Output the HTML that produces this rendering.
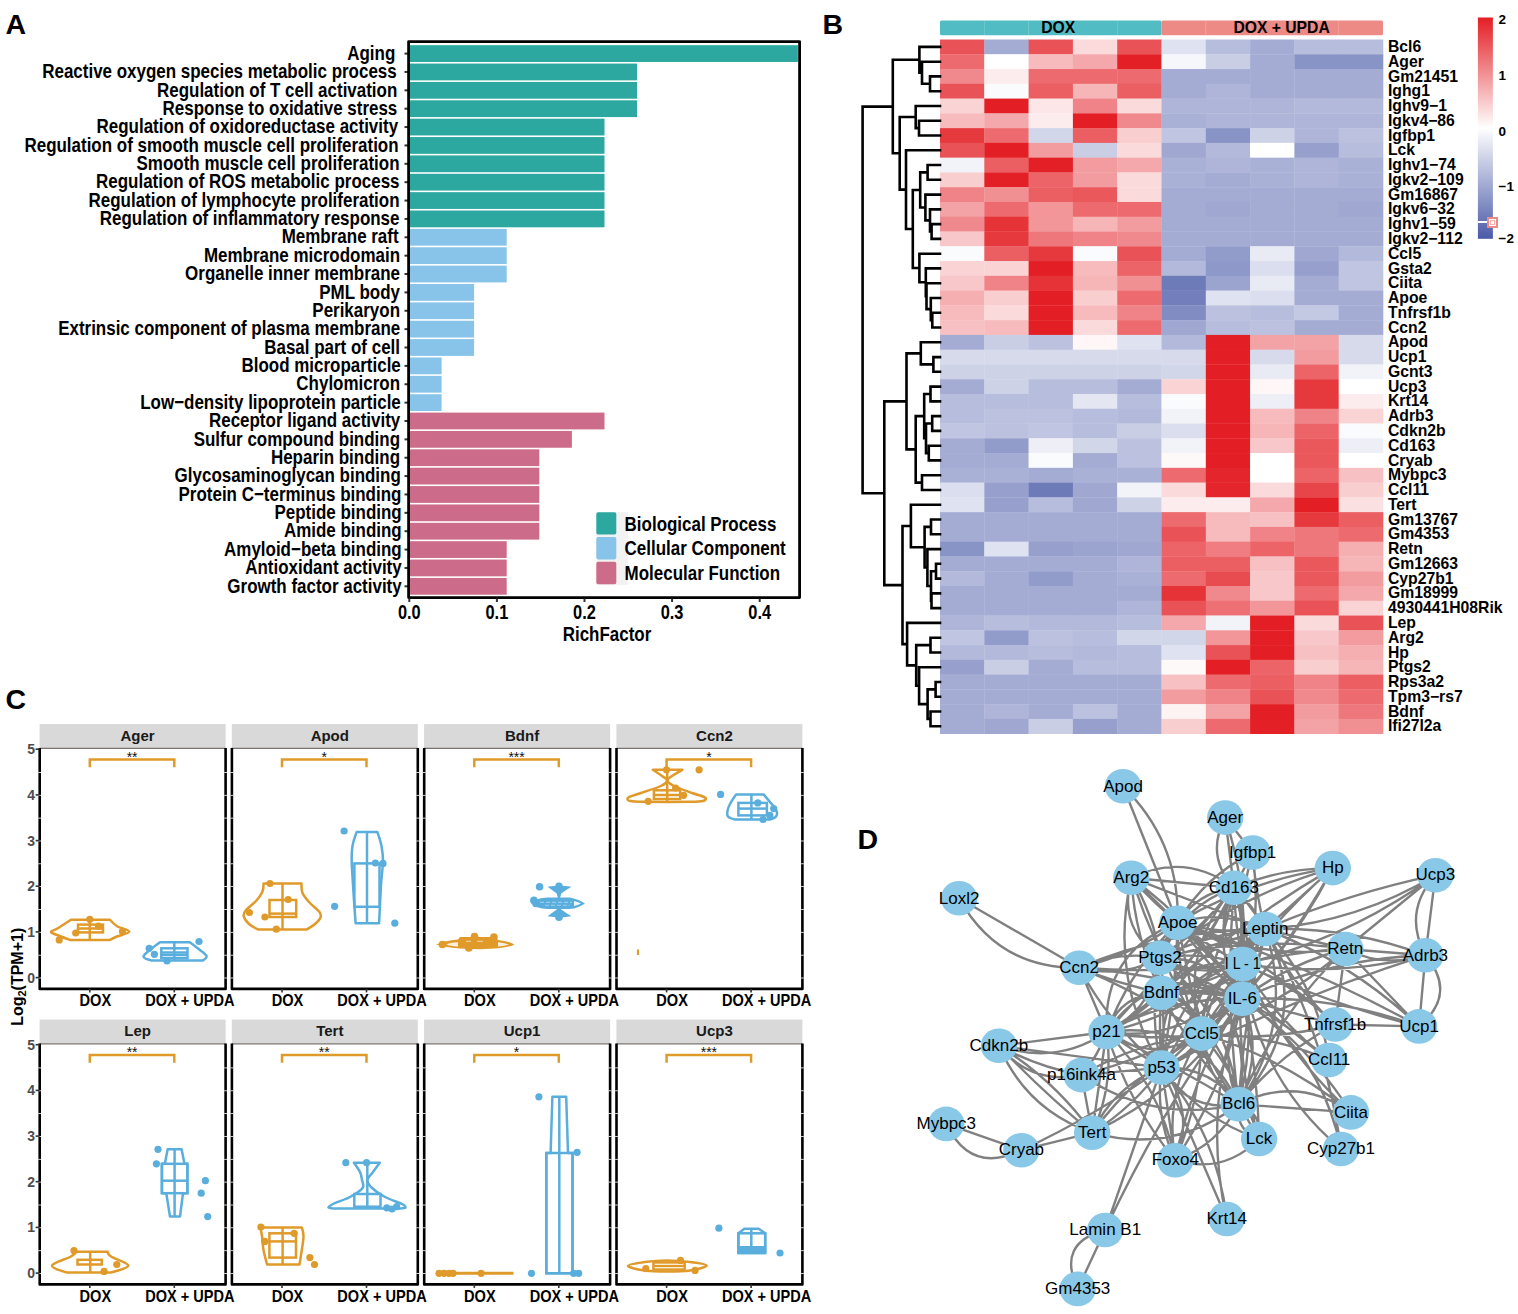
<!DOCTYPE html>
<html><head><meta charset="utf-8"><title>figure</title>
<style>html,body{margin:0;padding:0;background:#fff;} body{width:1518px;height:1314px;overflow:hidden;font-family:"Liberation Sans", sans-serif;} svg{display:block;}</style>
</head><body>
<svg width="1518" height="1314" viewBox="0 0 1518 1314" font-family="'Liberation Sans', sans-serif">
<rect width="1518" height="1314" fill="#fff"/>
<text x="5.5" y="33.8" font-size="28.5" font-weight="bold">A</text>
<text x="822.5" y="34.2" font-size="28.5" font-weight="bold">B</text>
<text x="5.5" y="709" font-size="28.5" font-weight="bold">C</text>
<rect x="409.3" y="45.20" width="388.60" height="16.77" fill="#2CA8A1"/>
<line x1="404.5" y1="53.59" x2="408.5" y2="53.59" stroke="#333" stroke-width="2"/>
<text transform="translate(395.30,59.79) scale(0.824,1)" text-anchor="end" font-size="20.6" font-weight="bold">Aging</text>
<rect x="409.3" y="63.57" width="227.70" height="16.77" fill="#2CA8A1"/>
<line x1="404.5" y1="71.95" x2="408.5" y2="71.95" stroke="#333" stroke-width="2"/>
<text transform="translate(396.70,78.16) scale(0.824,1)" text-anchor="end" font-size="20.6" font-weight="bold">Reactive oxygen species metabolic process</text>
<rect x="409.3" y="81.94" width="227.70" height="16.77" fill="#2CA8A1"/>
<line x1="404.5" y1="90.33" x2="408.5" y2="90.33" stroke="#333" stroke-width="2"/>
<text transform="translate(397.30,96.53) scale(0.824,1)" text-anchor="end" font-size="20.6" font-weight="bold">Regulation of T cell activation</text>
<rect x="409.3" y="100.31" width="227.70" height="16.77" fill="#2CA8A1"/>
<line x1="404.5" y1="108.69" x2="408.5" y2="108.69" stroke="#333" stroke-width="2"/>
<text transform="translate(397.30,114.89) scale(0.824,1)" text-anchor="end" font-size="20.6" font-weight="bold">Response to oxidative stress</text>
<rect x="409.3" y="118.68" width="195.20" height="16.77" fill="#2CA8A1"/>
<line x1="404.5" y1="127.06" x2="408.5" y2="127.06" stroke="#333" stroke-width="2"/>
<text transform="translate(398.10,133.26) scale(0.824,1)" text-anchor="end" font-size="20.6" font-weight="bold">Regulation of oxidoreductase activity</text>
<rect x="409.3" y="137.05" width="195.20" height="16.77" fill="#2CA8A1"/>
<line x1="404.5" y1="145.44" x2="408.5" y2="145.44" stroke="#333" stroke-width="2"/>
<text transform="translate(398.60,151.63) scale(0.824,1)" text-anchor="end" font-size="20.6" font-weight="bold">Regulation of smooth muscle cell proliferation</text>
<rect x="409.3" y="155.42" width="195.20" height="16.77" fill="#2CA8A1"/>
<line x1="404.5" y1="163.81" x2="408.5" y2="163.81" stroke="#333" stroke-width="2"/>
<text transform="translate(399.50,170.00) scale(0.824,1)" text-anchor="end" font-size="20.6" font-weight="bold">Smooth muscle cell proliferation</text>
<rect x="409.3" y="173.79" width="195.20" height="16.77" fill="#2CA8A1"/>
<line x1="404.5" y1="182.18" x2="408.5" y2="182.18" stroke="#333" stroke-width="2"/>
<text transform="translate(399.50,188.38) scale(0.824,1)" text-anchor="end" font-size="20.6" font-weight="bold">Regulation of ROS metabolic process</text>
<rect x="409.3" y="192.16" width="195.20" height="16.77" fill="#2CA8A1"/>
<line x1="404.5" y1="200.55" x2="408.5" y2="200.55" stroke="#333" stroke-width="2"/>
<text transform="translate(399.50,206.75) scale(0.824,1)" text-anchor="end" font-size="20.6" font-weight="bold">Regulation of lymphocyte proliferation</text>
<rect x="409.3" y="210.53" width="195.20" height="16.77" fill="#2CA8A1"/>
<line x1="404.5" y1="218.92" x2="408.5" y2="218.92" stroke="#333" stroke-width="2"/>
<text transform="translate(399.50,225.12) scale(0.824,1)" text-anchor="end" font-size="20.6" font-weight="bold">Regulation of inflammatory response</text>
<rect x="409.3" y="228.90" width="97.40" height="16.77" fill="#88C4E9"/>
<line x1="404.5" y1="237.29" x2="408.5" y2="237.29" stroke="#333" stroke-width="2"/>
<text transform="translate(398.60,243.49) scale(0.824,1)" text-anchor="end" font-size="20.6" font-weight="bold">Membrane raft</text>
<rect x="409.3" y="247.27" width="97.40" height="16.77" fill="#88C4E9"/>
<line x1="404.5" y1="255.66" x2="408.5" y2="255.66" stroke="#333" stroke-width="2"/>
<text transform="translate(400.00,261.86) scale(0.824,1)" text-anchor="end" font-size="20.6" font-weight="bold">Membrane microdomain</text>
<rect x="409.3" y="265.64" width="97.40" height="16.77" fill="#88C4E9"/>
<line x1="404.5" y1="274.02" x2="408.5" y2="274.02" stroke="#333" stroke-width="2"/>
<text transform="translate(400.00,280.22) scale(0.824,1)" text-anchor="end" font-size="20.6" font-weight="bold">Organelle inner membrane</text>
<rect x="409.3" y="284.01" width="64.80" height="16.77" fill="#88C4E9"/>
<line x1="404.5" y1="292.39" x2="408.5" y2="292.39" stroke="#333" stroke-width="2"/>
<text transform="translate(400.00,298.59) scale(0.824,1)" text-anchor="end" font-size="20.6" font-weight="bold">PML body</text>
<rect x="409.3" y="302.38" width="64.80" height="16.77" fill="#88C4E9"/>
<line x1="404.5" y1="310.76" x2="408.5" y2="310.76" stroke="#333" stroke-width="2"/>
<text transform="translate(400.00,316.96) scale(0.824,1)" text-anchor="end" font-size="20.6" font-weight="bold">Perikaryon</text>
<rect x="409.3" y="320.75" width="64.80" height="16.77" fill="#88C4E9"/>
<line x1="404.5" y1="329.13" x2="408.5" y2="329.13" stroke="#333" stroke-width="2"/>
<text transform="translate(400.30,335.33) scale(0.824,1)" text-anchor="end" font-size="20.6" font-weight="bold">Extrinsic component of plasma membrane</text>
<rect x="409.3" y="339.12" width="64.80" height="16.77" fill="#88C4E9"/>
<line x1="404.5" y1="347.50" x2="408.5" y2="347.50" stroke="#333" stroke-width="2"/>
<text transform="translate(400.00,353.70) scale(0.824,1)" text-anchor="end" font-size="20.6" font-weight="bold">Basal part of cell</text>
<rect x="409.3" y="357.49" width="32.30" height="16.77" fill="#88C4E9"/>
<line x1="404.5" y1="365.88" x2="408.5" y2="365.88" stroke="#333" stroke-width="2"/>
<text transform="translate(400.80,372.07) scale(0.824,1)" text-anchor="end" font-size="20.6" font-weight="bold">Blood microparticle</text>
<rect x="409.3" y="375.86" width="32.30" height="16.77" fill="#88C4E9"/>
<line x1="404.5" y1="384.25" x2="408.5" y2="384.25" stroke="#333" stroke-width="2"/>
<text transform="translate(400.00,390.44) scale(0.824,1)" text-anchor="end" font-size="20.6" font-weight="bold">Chylomicron</text>
<rect x="409.3" y="394.23" width="32.30" height="16.77" fill="#88C4E9"/>
<line x1="404.5" y1="402.62" x2="408.5" y2="402.62" stroke="#333" stroke-width="2"/>
<text transform="translate(400.80,408.81) scale(0.824,1)" text-anchor="end" font-size="20.6" font-weight="bold">Low−density lipoprotein particle</text>
<rect x="409.3" y="412.60" width="195.20" height="16.77" fill="#CD6B8A"/>
<line x1="404.5" y1="420.99" x2="408.5" y2="420.99" stroke="#333" stroke-width="2"/>
<text transform="translate(400.30,427.19) scale(0.824,1)" text-anchor="end" font-size="20.6" font-weight="bold">Receptor ligand activity</text>
<rect x="409.3" y="430.97" width="162.60" height="16.77" fill="#CD6B8A"/>
<line x1="404.5" y1="439.36" x2="408.5" y2="439.36" stroke="#333" stroke-width="2"/>
<text transform="translate(400.00,445.56) scale(0.824,1)" text-anchor="end" font-size="20.6" font-weight="bold">Sulfur compound binding</text>
<rect x="409.3" y="449.34" width="130.00" height="16.77" fill="#CD6B8A"/>
<line x1="404.5" y1="457.73" x2="408.5" y2="457.73" stroke="#333" stroke-width="2"/>
<text transform="translate(400.00,463.93) scale(0.824,1)" text-anchor="end" font-size="20.6" font-weight="bold">Heparin binding</text>
<rect x="409.3" y="467.71" width="130.00" height="16.77" fill="#CD6B8A"/>
<line x1="404.5" y1="476.10" x2="408.5" y2="476.10" stroke="#333" stroke-width="2"/>
<text transform="translate(400.80,482.30) scale(0.824,1)" text-anchor="end" font-size="20.6" font-weight="bold">Glycosaminoglycan binding</text>
<rect x="409.3" y="486.08" width="130.00" height="16.77" fill="#CD6B8A"/>
<line x1="404.5" y1="494.46" x2="408.5" y2="494.46" stroke="#333" stroke-width="2"/>
<text transform="translate(401.40,500.66) scale(0.824,1)" text-anchor="end" font-size="20.6" font-weight="bold">Protein C−terminus binding</text>
<rect x="409.3" y="504.45" width="130.00" height="16.77" fill="#CD6B8A"/>
<line x1="404.5" y1="512.83" x2="408.5" y2="512.83" stroke="#333" stroke-width="2"/>
<text transform="translate(401.70,519.03) scale(0.824,1)" text-anchor="end" font-size="20.6" font-weight="bold">Peptide binding</text>
<rect x="409.3" y="522.82" width="130.00" height="16.77" fill="#CD6B8A"/>
<line x1="404.5" y1="531.20" x2="408.5" y2="531.20" stroke="#333" stroke-width="2"/>
<text transform="translate(401.70,537.40) scale(0.824,1)" text-anchor="end" font-size="20.6" font-weight="bold">Amide binding</text>
<rect x="409.3" y="541.19" width="97.40" height="16.77" fill="#CD6B8A"/>
<line x1="404.5" y1="549.57" x2="408.5" y2="549.57" stroke="#333" stroke-width="2"/>
<text transform="translate(401.70,555.77) scale(0.824,1)" text-anchor="end" font-size="20.6" font-weight="bold">Amyloid−beta binding</text>
<rect x="409.3" y="559.56" width="97.40" height="16.77" fill="#CD6B8A"/>
<line x1="404.5" y1="567.94" x2="408.5" y2="567.94" stroke="#333" stroke-width="2"/>
<text transform="translate(401.70,574.14) scale(0.824,1)" text-anchor="end" font-size="20.6" font-weight="bold">Antioxidant activity</text>
<rect x="409.3" y="577.93" width="97.40" height="16.77" fill="#CD6B8A"/>
<line x1="404.5" y1="586.31" x2="408.5" y2="586.31" stroke="#333" stroke-width="2"/>
<text transform="translate(401.70,592.51) scale(0.824,1)" text-anchor="end" font-size="20.6" font-weight="bold">Growth factor activity</text>
<rect x="408.6" y="41.6" width="391.0" height="556.0" fill="none" stroke="#000" stroke-width="2.8" stroke-linejoin="round"/>
<line x1="409.30" y1="598.5" x2="409.30" y2="602" stroke="#333" stroke-width="2"/>
<text transform="translate(409.30,619.2) scale(0.78,1)" text-anchor="middle" font-size="21" font-weight="bold">0.0</text>
<line x1="496.90" y1="598.5" x2="496.90" y2="602" stroke="#333" stroke-width="2"/>
<text transform="translate(496.90,619.2) scale(0.78,1)" text-anchor="middle" font-size="21" font-weight="bold">0.1</text>
<line x1="584.50" y1="598.5" x2="584.50" y2="602" stroke="#333" stroke-width="2"/>
<text transform="translate(584.50,619.2) scale(0.78,1)" text-anchor="middle" font-size="21" font-weight="bold">0.2</text>
<line x1="672.10" y1="598.5" x2="672.10" y2="602" stroke="#333" stroke-width="2"/>
<text transform="translate(672.10,619.2) scale(0.78,1)" text-anchor="middle" font-size="21" font-weight="bold">0.3</text>
<line x1="759.70" y1="598.5" x2="759.70" y2="602" stroke="#333" stroke-width="2"/>
<text transform="translate(759.70,619.2) scale(0.78,1)" text-anchor="middle" font-size="21" font-weight="bold">0.4</text>
<text transform="translate(607,641.2) scale(0.857,1)" text-anchor="middle" font-size="19.8" font-weight="bold">RichFactor</text>
<rect x="596.5" y="512" width="31.5" height="73" fill="#F2F2F2"/>
<rect x="596.3" y="512.20" width="20" height="22.4" rx="1.8" fill="#2CA8A1"/>
<text transform="translate(624.6,530.60) scale(0.824,1)" font-size="20.6" font-weight="bold">Biological Process</text>
<rect x="596.3" y="537.00" width="20" height="22.4" rx="1.8" fill="#88C4E9"/>
<text transform="translate(624.6,555.40) scale(0.824,1)" font-size="20.6" font-weight="bold">Cellular Component</text>
<rect x="596.3" y="561.80" width="20" height="22.4" rx="1.8" fill="#CD6B8A"/>
<text transform="translate(624.6,580.20) scale(0.824,1)" font-size="20.6" font-weight="bold">Molecular Function</text>
<rect x="940.0" y="20.5" width="221.50" height="14.8" rx="1.5" fill="#52BCC5"/>
<rect x="1161.50" y="20.5" width="221.50" height="14.8" rx="1.5" fill="#EE8A85"/>
<line x1="984.30" y1="20.5" x2="984.30" y2="35.3" stroke="#fff" stroke-width="0.4" opacity="0.5"/>
<line x1="1028.60" y1="20.5" x2="1028.60" y2="35.3" stroke="#fff" stroke-width="0.4" opacity="0.5"/>
<line x1="1072.90" y1="20.5" x2="1072.90" y2="35.3" stroke="#fff" stroke-width="0.4" opacity="0.5"/>
<line x1="1117.20" y1="20.5" x2="1117.20" y2="35.3" stroke="#fff" stroke-width="0.4" opacity="0.5"/>
<line x1="1205.80" y1="20.5" x2="1205.80" y2="35.3" stroke="#fff" stroke-width="0.4" opacity="0.5"/>
<line x1="1250.10" y1="20.5" x2="1250.10" y2="35.3" stroke="#fff" stroke-width="0.4" opacity="0.5"/>
<line x1="1294.40" y1="20.5" x2="1294.40" y2="35.3" stroke="#fff" stroke-width="0.4" opacity="0.5"/>
<line x1="1338.70" y1="20.5" x2="1338.70" y2="35.3" stroke="#fff" stroke-width="0.4" opacity="0.5"/>
<text x="1058.2" y="33" text-anchor="middle" font-size="15.7" font-weight="bold">DOX</text>
<text x="1281.6" y="33" text-anchor="middle" font-size="15.7" font-weight="bold">DOX + UPDA</text>
<rect x="940.00" y="39.50" width="44.60" height="15.07" fill="#E95256"/>
<rect x="984.30" y="39.50" width="44.60" height="15.07" fill="#A4ACD4"/>
<rect x="1028.60" y="39.50" width="44.60" height="15.07" fill="#E95256"/>
<rect x="1072.90" y="39.50" width="44.60" height="15.07" fill="#FADADB"/>
<rect x="1117.20" y="39.50" width="44.60" height="15.07" fill="#E95256"/>
<rect x="1161.50" y="39.50" width="44.60" height="15.07" fill="#DFE2F0"/>
<rect x="1205.80" y="39.50" width="44.60" height="15.07" fill="#B7BDDC"/>
<rect x="1250.10" y="39.50" width="44.60" height="15.07" fill="#A4ACD4"/>
<rect x="1294.40" y="39.50" width="44.60" height="15.07" fill="#B7BDDC"/>
<rect x="1338.70" y="39.50" width="44.60" height="15.07" fill="#B7BDDC"/>
<rect x="940.00" y="54.27" width="44.60" height="15.07" fill="#ED6A6E"/>
<rect x="984.30" y="54.27" width="44.60" height="15.07" fill="#FFFFFF"/>
<rect x="1028.60" y="54.27" width="44.60" height="15.07" fill="#F7BBBD"/>
<rect x="1072.90" y="54.27" width="44.60" height="15.07" fill="#F4A8AB"/>
<rect x="1117.20" y="54.27" width="44.60" height="15.07" fill="#E32026"/>
<rect x="1161.50" y="54.27" width="44.60" height="15.07" fill="#F6F7FB"/>
<rect x="1205.80" y="54.27" width="44.60" height="15.07" fill="#C9CEE5"/>
<rect x="1250.10" y="54.27" width="44.60" height="15.07" fill="#A4ACD4"/>
<rect x="1294.40" y="54.27" width="44.60" height="15.07" fill="#8994C6"/>
<rect x="1338.70" y="54.27" width="44.60" height="15.07" fill="#8994C6"/>
<rect x="940.00" y="69.04" width="44.60" height="15.07" fill="#F0898D"/>
<rect x="984.30" y="69.04" width="44.60" height="15.07" fill="#FDECED"/>
<rect x="1028.60" y="69.04" width="44.60" height="15.07" fill="#ED6A6E"/>
<rect x="1072.90" y="69.04" width="44.60" height="15.07" fill="#ED6A6E"/>
<rect x="1117.20" y="69.04" width="44.60" height="15.07" fill="#ED6A6E"/>
<rect x="1161.50" y="69.04" width="44.60" height="15.07" fill="#A4ACD4"/>
<rect x="1205.80" y="69.04" width="44.60" height="15.07" fill="#A4ACD4"/>
<rect x="1250.10" y="69.04" width="44.60" height="15.07" fill="#A4ACD4"/>
<rect x="1294.40" y="69.04" width="44.60" height="15.07" fill="#A4ACD4"/>
<rect x="1338.70" y="69.04" width="44.60" height="15.07" fill="#A4ACD4"/>
<rect x="940.00" y="83.81" width="44.60" height="15.07" fill="#E95256"/>
<rect x="984.30" y="83.81" width="44.60" height="15.07" fill="#FAFBFD"/>
<rect x="1028.60" y="83.81" width="44.60" height="15.07" fill="#EB5E62"/>
<rect x="1072.90" y="83.81" width="44.60" height="15.07" fill="#F6B5B7"/>
<rect x="1117.20" y="83.81" width="44.60" height="15.07" fill="#EB5E62"/>
<rect x="1161.50" y="83.81" width="44.60" height="15.07" fill="#A4ACD4"/>
<rect x="1205.80" y="83.81" width="44.60" height="15.07" fill="#AEB5D8"/>
<rect x="1250.10" y="83.81" width="44.60" height="15.07" fill="#A4ACD4"/>
<rect x="1294.40" y="83.81" width="44.60" height="15.07" fill="#A4ACD4"/>
<rect x="1338.70" y="83.81" width="44.60" height="15.07" fill="#A4ACD4"/>
<rect x="940.00" y="98.58" width="44.60" height="15.07" fill="#FAD4D5"/>
<rect x="984.30" y="98.58" width="44.60" height="15.07" fill="#E31E24"/>
<rect x="1028.60" y="98.58" width="44.60" height="15.07" fill="#FCE6E7"/>
<rect x="1072.90" y="98.58" width="44.60" height="15.07" fill="#F08387"/>
<rect x="1117.20" y="98.58" width="44.60" height="15.07" fill="#FADADB"/>
<rect x="1161.50" y="98.58" width="44.60" height="15.07" fill="#AEB5D8"/>
<rect x="1205.80" y="98.58" width="44.60" height="15.07" fill="#AEB5D8"/>
<rect x="1250.10" y="98.58" width="44.60" height="15.07" fill="#AEB5D8"/>
<rect x="1294.40" y="98.58" width="44.60" height="15.07" fill="#B2B9DA"/>
<rect x="1338.70" y="98.58" width="44.60" height="15.07" fill="#B2B9DA"/>
<rect x="940.00" y="113.35" width="44.60" height="15.07" fill="#F7BBBD"/>
<rect x="984.30" y="113.35" width="44.60" height="15.07" fill="#F4A8AB"/>
<rect x="1028.60" y="113.35" width="44.60" height="15.07" fill="#FDECED"/>
<rect x="1072.90" y="113.35" width="44.60" height="15.07" fill="#E31E24"/>
<rect x="1117.20" y="113.35" width="44.60" height="15.07" fill="#F0898D"/>
<rect x="1161.50" y="113.35" width="44.60" height="15.07" fill="#A9B1D6"/>
<rect x="1205.80" y="113.35" width="44.60" height="15.07" fill="#AEB5D8"/>
<rect x="1250.10" y="113.35" width="44.60" height="15.07" fill="#AEB5D8"/>
<rect x="1294.40" y="113.35" width="44.60" height="15.07" fill="#AEB5D8"/>
<rect x="1338.70" y="113.35" width="44.60" height="15.07" fill="#AEB5D8"/>
<rect x="940.00" y="128.12" width="44.60" height="15.07" fill="#E6393E"/>
<rect x="984.30" y="128.12" width="44.60" height="15.07" fill="#ED6A6E"/>
<rect x="1028.60" y="128.12" width="44.60" height="15.07" fill="#D2D6E9"/>
<rect x="1072.90" y="128.12" width="44.60" height="15.07" fill="#EB5E62"/>
<rect x="1117.20" y="128.12" width="44.60" height="15.07" fill="#F9CECF"/>
<rect x="1161.50" y="128.12" width="44.60" height="15.07" fill="#C0C5E1"/>
<rect x="1205.80" y="128.12" width="44.60" height="15.07" fill="#8994C6"/>
<rect x="1250.10" y="128.12" width="44.60" height="15.07" fill="#CDD2E7"/>
<rect x="1294.40" y="128.12" width="44.60" height="15.07" fill="#AEB5D8"/>
<rect x="1338.70" y="128.12" width="44.60" height="15.07" fill="#BBC1DE"/>
<rect x="940.00" y="142.89" width="44.60" height="15.07" fill="#E95256"/>
<rect x="984.30" y="142.89" width="44.60" height="15.07" fill="#E31E24"/>
<rect x="1028.60" y="142.89" width="44.60" height="15.07" fill="#F39C9F"/>
<rect x="1072.90" y="142.89" width="44.60" height="15.07" fill="#C9CEE5"/>
<rect x="1117.20" y="142.89" width="44.60" height="15.07" fill="#FADADB"/>
<rect x="1161.50" y="142.89" width="44.60" height="15.07" fill="#A0A8D1"/>
<rect x="1205.80" y="142.89" width="44.60" height="15.07" fill="#B2B9DA"/>
<rect x="1250.10" y="142.89" width="44.60" height="15.07" fill="#FFFFFF"/>
<rect x="1294.40" y="142.89" width="44.60" height="15.07" fill="#97A0CD"/>
<rect x="1338.70" y="142.89" width="44.60" height="15.07" fill="#B7BDDC"/>
<rect x="940.00" y="157.66" width="44.60" height="15.07" fill="#F1F3F8"/>
<rect x="984.30" y="157.66" width="44.60" height="15.07" fill="#EB5E62"/>
<rect x="1028.60" y="157.66" width="44.60" height="15.07" fill="#E32026"/>
<rect x="1072.90" y="157.66" width="44.60" height="15.07" fill="#F39C9F"/>
<rect x="1117.20" y="157.66" width="44.60" height="15.07" fill="#F4A8AB"/>
<rect x="1161.50" y="157.66" width="44.60" height="15.07" fill="#A9B1D6"/>
<rect x="1205.80" y="157.66" width="44.60" height="15.07" fill="#AEB5D8"/>
<rect x="1250.10" y="157.66" width="44.60" height="15.07" fill="#A9B1D6"/>
<rect x="1294.40" y="157.66" width="44.60" height="15.07" fill="#AEB5D8"/>
<rect x="1338.70" y="157.66" width="44.60" height="15.07" fill="#A9B1D6"/>
<rect x="940.00" y="172.43" width="44.60" height="15.07" fill="#F9CECF"/>
<rect x="984.30" y="172.43" width="44.60" height="15.07" fill="#E32026"/>
<rect x="1028.60" y="172.43" width="44.60" height="15.07" fill="#EC6468"/>
<rect x="1072.90" y="172.43" width="44.60" height="15.07" fill="#F39C9F"/>
<rect x="1117.20" y="172.43" width="44.60" height="15.07" fill="#FADADB"/>
<rect x="1161.50" y="172.43" width="44.60" height="15.07" fill="#A9B1D6"/>
<rect x="1205.80" y="172.43" width="44.60" height="15.07" fill="#A4ACD4"/>
<rect x="1250.10" y="172.43" width="44.60" height="15.07" fill="#A9B1D6"/>
<rect x="1294.40" y="172.43" width="44.60" height="15.07" fill="#AEB5D8"/>
<rect x="1338.70" y="172.43" width="44.60" height="15.07" fill="#A9B1D6"/>
<rect x="940.00" y="187.20" width="44.60" height="15.07" fill="#F08387"/>
<rect x="984.30" y="187.20" width="44.60" height="15.07" fill="#F19093"/>
<rect x="1028.60" y="187.20" width="44.60" height="15.07" fill="#EB5E62"/>
<rect x="1072.90" y="187.20" width="44.60" height="15.07" fill="#EA585C"/>
<rect x="1117.20" y="187.20" width="44.60" height="15.07" fill="#FADADB"/>
<rect x="1161.50" y="187.20" width="44.60" height="15.07" fill="#A4ACD4"/>
<rect x="1205.80" y="187.20" width="44.60" height="15.07" fill="#A4ACD4"/>
<rect x="1250.10" y="187.20" width="44.60" height="15.07" fill="#A4ACD4"/>
<rect x="1294.40" y="187.20" width="44.60" height="15.07" fill="#A4ACD4"/>
<rect x="1338.70" y="187.20" width="44.60" height="15.07" fill="#A4ACD4"/>
<rect x="940.00" y="201.97" width="44.60" height="15.07" fill="#F3A2A5"/>
<rect x="984.30" y="201.97" width="44.60" height="15.07" fill="#ED6A6E"/>
<rect x="1028.60" y="201.97" width="44.60" height="15.07" fill="#F29699"/>
<rect x="1072.90" y="201.97" width="44.60" height="15.07" fill="#ED6A6E"/>
<rect x="1117.20" y="201.97" width="44.60" height="15.07" fill="#ED6A6E"/>
<rect x="1161.50" y="201.97" width="44.60" height="15.07" fill="#A4ACD4"/>
<rect x="1205.80" y="201.97" width="44.60" height="15.07" fill="#A0A8D1"/>
<rect x="1250.10" y="201.97" width="44.60" height="15.07" fill="#A4ACD4"/>
<rect x="1294.40" y="201.97" width="44.60" height="15.07" fill="#A4ACD4"/>
<rect x="1338.70" y="201.97" width="44.60" height="15.07" fill="#A0A8D1"/>
<rect x="940.00" y="216.74" width="44.60" height="15.07" fill="#F0898D"/>
<rect x="984.30" y="216.74" width="44.60" height="15.07" fill="#E63338"/>
<rect x="1028.60" y="216.74" width="44.60" height="15.07" fill="#F29699"/>
<rect x="1072.90" y="216.74" width="44.60" height="15.07" fill="#F6B5B7"/>
<rect x="1117.20" y="216.74" width="44.60" height="15.07" fill="#F39C9F"/>
<rect x="1161.50" y="216.74" width="44.60" height="15.07" fill="#A4ACD4"/>
<rect x="1205.80" y="216.74" width="44.60" height="15.07" fill="#A4ACD4"/>
<rect x="1250.10" y="216.74" width="44.60" height="15.07" fill="#A4ACD4"/>
<rect x="1294.40" y="216.74" width="44.60" height="15.07" fill="#A4ACD4"/>
<rect x="1338.70" y="216.74" width="44.60" height="15.07" fill="#A4ACD4"/>
<rect x="940.00" y="231.51" width="44.60" height="15.07" fill="#F8C7C9"/>
<rect x="984.30" y="231.51" width="44.60" height="15.07" fill="#E6393E"/>
<rect x="1028.60" y="231.51" width="44.60" height="15.07" fill="#EE777B"/>
<rect x="1072.90" y="231.51" width="44.60" height="15.07" fill="#F08387"/>
<rect x="1117.20" y="231.51" width="44.60" height="15.07" fill="#F0898D"/>
<rect x="1161.50" y="231.51" width="44.60" height="15.07" fill="#A4ACD4"/>
<rect x="1205.80" y="231.51" width="44.60" height="15.07" fill="#A4ACD4"/>
<rect x="1250.10" y="231.51" width="44.60" height="15.07" fill="#A4ACD4"/>
<rect x="1294.40" y="231.51" width="44.60" height="15.07" fill="#A4ACD4"/>
<rect x="1338.70" y="231.51" width="44.60" height="15.07" fill="#A4ACD4"/>
<rect x="940.00" y="246.28" width="44.60" height="15.07" fill="#FAFBFD"/>
<rect x="984.30" y="246.28" width="44.60" height="15.07" fill="#EB5E62"/>
<rect x="1028.60" y="246.28" width="44.60" height="15.07" fill="#E6393E"/>
<rect x="1072.90" y="246.28" width="44.60" height="15.07" fill="#FAFBFD"/>
<rect x="1117.20" y="246.28" width="44.60" height="15.07" fill="#E95256"/>
<rect x="1161.50" y="246.28" width="44.60" height="15.07" fill="#A4ACD4"/>
<rect x="1205.80" y="246.28" width="44.60" height="15.07" fill="#929CCB"/>
<rect x="1250.10" y="246.28" width="44.60" height="15.07" fill="#E8EAF4"/>
<rect x="1294.40" y="246.28" width="44.60" height="15.07" fill="#A0A8D1"/>
<rect x="1338.70" y="246.28" width="44.60" height="15.07" fill="#B2B9DA"/>
<rect x="940.00" y="261.05" width="44.60" height="15.07" fill="#FAD4D5"/>
<rect x="984.30" y="261.05" width="44.60" height="15.07" fill="#FAD4D5"/>
<rect x="1028.60" y="261.05" width="44.60" height="15.07" fill="#E31E24"/>
<rect x="1072.90" y="261.05" width="44.60" height="15.07" fill="#F7BBBD"/>
<rect x="1117.20" y="261.05" width="44.60" height="15.07" fill="#EC6468"/>
<rect x="1161.50" y="261.05" width="44.60" height="15.07" fill="#B2B9DA"/>
<rect x="1205.80" y="261.05" width="44.60" height="15.07" fill="#8E98C9"/>
<rect x="1250.10" y="261.05" width="44.60" height="15.07" fill="#DBDEEE"/>
<rect x="1294.40" y="261.05" width="44.60" height="15.07" fill="#97A0CD"/>
<rect x="1338.70" y="261.05" width="44.60" height="15.07" fill="#C0C5E1"/>
<rect x="940.00" y="275.82" width="44.60" height="15.07" fill="#F8C7C9"/>
<rect x="984.30" y="275.82" width="44.60" height="15.07" fill="#F08387"/>
<rect x="1028.60" y="275.82" width="44.60" height="15.07" fill="#E63338"/>
<rect x="1072.90" y="275.82" width="44.60" height="15.07" fill="#F6B5B7"/>
<rect x="1117.20" y="275.82" width="44.60" height="15.07" fill="#F19093"/>
<rect x="1161.50" y="275.82" width="44.60" height="15.07" fill="#6E7BB9"/>
<rect x="1205.80" y="275.82" width="44.60" height="15.07" fill="#9BA4CF"/>
<rect x="1250.10" y="275.82" width="44.60" height="15.07" fill="#E8EAF4"/>
<rect x="1294.40" y="275.82" width="44.60" height="15.07" fill="#A4ACD4"/>
<rect x="1338.70" y="275.82" width="44.60" height="15.07" fill="#C0C5E1"/>
<rect x="940.00" y="290.59" width="44.60" height="15.07" fill="#F5AFB1"/>
<rect x="984.30" y="290.59" width="44.60" height="15.07" fill="#F9CECF"/>
<rect x="1028.60" y="290.59" width="44.60" height="15.07" fill="#E31E24"/>
<rect x="1072.90" y="290.59" width="44.60" height="15.07" fill="#F9CECF"/>
<rect x="1117.20" y="290.59" width="44.60" height="15.07" fill="#ED6A6E"/>
<rect x="1161.50" y="290.59" width="44.60" height="15.07" fill="#737FBC"/>
<rect x="1205.80" y="290.59" width="44.60" height="15.07" fill="#DFE2F0"/>
<rect x="1250.10" y="290.59" width="44.60" height="15.07" fill="#DBDEEE"/>
<rect x="1294.40" y="290.59" width="44.60" height="15.07" fill="#A4ACD4"/>
<rect x="1338.70" y="290.59" width="44.60" height="15.07" fill="#A4ACD4"/>
<rect x="940.00" y="305.36" width="44.60" height="15.07" fill="#F7BBBD"/>
<rect x="984.30" y="305.36" width="44.60" height="15.07" fill="#FADADB"/>
<rect x="1028.60" y="305.36" width="44.60" height="15.07" fill="#E31E24"/>
<rect x="1072.90" y="305.36" width="44.60" height="15.07" fill="#F7BBBD"/>
<rect x="1117.20" y="305.36" width="44.60" height="15.07" fill="#F08387"/>
<rect x="1161.50" y="305.36" width="44.60" height="15.07" fill="#808CC2"/>
<rect x="1205.80" y="305.36" width="44.60" height="15.07" fill="#BBC1DE"/>
<rect x="1250.10" y="305.36" width="44.60" height="15.07" fill="#B7BDDC"/>
<rect x="1294.40" y="305.36" width="44.60" height="15.07" fill="#C4C9E3"/>
<rect x="1338.70" y="305.36" width="44.60" height="15.07" fill="#A4ACD4"/>
<rect x="940.00" y="320.13" width="44.60" height="15.07" fill="#F7C1C3"/>
<rect x="984.30" y="320.13" width="44.60" height="15.07" fill="#F7BBBD"/>
<rect x="1028.60" y="320.13" width="44.60" height="15.07" fill="#E31E24"/>
<rect x="1072.90" y="320.13" width="44.60" height="15.07" fill="#FADADB"/>
<rect x="1117.20" y="320.13" width="44.60" height="15.07" fill="#ED6A6E"/>
<rect x="1161.50" y="320.13" width="44.60" height="15.07" fill="#A0A8D1"/>
<rect x="1205.80" y="320.13" width="44.60" height="15.07" fill="#B7BDDC"/>
<rect x="1250.10" y="320.13" width="44.60" height="15.07" fill="#BBC1DE"/>
<rect x="1294.40" y="320.13" width="44.60" height="15.07" fill="#A4ACD4"/>
<rect x="1338.70" y="320.13" width="44.60" height="15.07" fill="#A4ACD4"/>
<rect x="940.00" y="334.90" width="44.60" height="15.07" fill="#A4ACD4"/>
<rect x="984.30" y="334.90" width="44.60" height="15.07" fill="#C9CEE5"/>
<rect x="1028.60" y="334.90" width="44.60" height="15.07" fill="#BBC1DE"/>
<rect x="1072.90" y="334.90" width="44.60" height="15.07" fill="#FEF6F7"/>
<rect x="1117.20" y="334.90" width="44.60" height="15.07" fill="#DFE2F0"/>
<rect x="1161.50" y="334.90" width="44.60" height="15.07" fill="#B2B9DA"/>
<rect x="1205.80" y="334.90" width="44.60" height="15.07" fill="#E31E24"/>
<rect x="1250.10" y="334.90" width="44.60" height="15.07" fill="#F3A2A5"/>
<rect x="1294.40" y="334.90" width="44.60" height="15.07" fill="#F3A2A5"/>
<rect x="1338.70" y="334.90" width="44.60" height="15.07" fill="#D6DAEB"/>
<rect x="940.00" y="349.67" width="44.60" height="15.07" fill="#D6DAEB"/>
<rect x="984.30" y="349.67" width="44.60" height="15.07" fill="#D6DAEB"/>
<rect x="1028.60" y="349.67" width="44.60" height="15.07" fill="#D6DAEB"/>
<rect x="1072.90" y="349.67" width="44.60" height="15.07" fill="#D6DAEB"/>
<rect x="1117.20" y="349.67" width="44.60" height="15.07" fill="#D6DAEB"/>
<rect x="1161.50" y="349.67" width="44.60" height="15.07" fill="#D6DAEB"/>
<rect x="1205.80" y="349.67" width="44.60" height="15.07" fill="#E31E24"/>
<rect x="1250.10" y="349.67" width="44.60" height="15.07" fill="#D6DAEB"/>
<rect x="1294.40" y="349.67" width="44.60" height="15.07" fill="#F39C9F"/>
<rect x="1338.70" y="349.67" width="44.60" height="15.07" fill="#D6DAEB"/>
<rect x="940.00" y="364.44" width="44.60" height="15.07" fill="#CDD2E7"/>
<rect x="984.30" y="364.44" width="44.60" height="15.07" fill="#CDD2E7"/>
<rect x="1028.60" y="364.44" width="44.60" height="15.07" fill="#CDD2E7"/>
<rect x="1072.90" y="364.44" width="44.60" height="15.07" fill="#CDD2E7"/>
<rect x="1117.20" y="364.44" width="44.60" height="15.07" fill="#CDD2E7"/>
<rect x="1161.50" y="364.44" width="44.60" height="15.07" fill="#D2D6E9"/>
<rect x="1205.80" y="364.44" width="44.60" height="15.07" fill="#E31E24"/>
<rect x="1250.10" y="364.44" width="44.60" height="15.07" fill="#E8EAF4"/>
<rect x="1294.40" y="364.44" width="44.60" height="15.07" fill="#EC6468"/>
<rect x="1338.70" y="364.44" width="44.60" height="15.07" fill="#F1F3F8"/>
<rect x="940.00" y="379.21" width="44.60" height="15.07" fill="#A4ACD4"/>
<rect x="984.30" y="379.21" width="44.60" height="15.07" fill="#CDD2E7"/>
<rect x="1028.60" y="379.21" width="44.60" height="15.07" fill="#B7BDDC"/>
<rect x="1072.90" y="379.21" width="44.60" height="15.07" fill="#B7BDDC"/>
<rect x="1117.20" y="379.21" width="44.60" height="15.07" fill="#A4ACD4"/>
<rect x="1161.50" y="379.21" width="44.60" height="15.07" fill="#FAD4D5"/>
<rect x="1205.80" y="379.21" width="44.60" height="15.07" fill="#E31E24"/>
<rect x="1250.10" y="379.21" width="44.60" height="15.07" fill="#FEF6F7"/>
<rect x="1294.40" y="379.21" width="44.60" height="15.07" fill="#E6393E"/>
<rect x="1338.70" y="379.21" width="44.60" height="15.07" fill="#FFFFFF"/>
<rect x="940.00" y="393.98" width="44.60" height="15.07" fill="#B7BDDC"/>
<rect x="984.30" y="393.98" width="44.60" height="15.07" fill="#B7BDDC"/>
<rect x="1028.60" y="393.98" width="44.60" height="15.07" fill="#B7BDDC"/>
<rect x="1072.90" y="393.98" width="44.60" height="15.07" fill="#E4E6F2"/>
<rect x="1117.20" y="393.98" width="44.60" height="15.07" fill="#B7BDDC"/>
<rect x="1161.50" y="393.98" width="44.60" height="15.07" fill="#FAFBFD"/>
<rect x="1205.80" y="393.98" width="44.60" height="15.07" fill="#E31E24"/>
<rect x="1250.10" y="393.98" width="44.60" height="15.07" fill="#EDEEF6"/>
<rect x="1294.40" y="393.98" width="44.60" height="15.07" fill="#E6393E"/>
<rect x="1338.70" y="393.98" width="44.60" height="15.07" fill="#FDECED"/>
<rect x="940.00" y="408.75" width="44.60" height="15.07" fill="#B7BDDC"/>
<rect x="984.30" y="408.75" width="44.60" height="15.07" fill="#BBC1DE"/>
<rect x="1028.60" y="408.75" width="44.60" height="15.07" fill="#BBC1DE"/>
<rect x="1072.90" y="408.75" width="44.60" height="15.07" fill="#B7BDDC"/>
<rect x="1117.20" y="408.75" width="44.60" height="15.07" fill="#B2B9DA"/>
<rect x="1161.50" y="408.75" width="44.60" height="15.07" fill="#F1F3F8"/>
<rect x="1205.80" y="408.75" width="44.60" height="15.07" fill="#E31E24"/>
<rect x="1250.10" y="408.75" width="44.60" height="15.07" fill="#F7BBBD"/>
<rect x="1294.40" y="408.75" width="44.60" height="15.07" fill="#F08387"/>
<rect x="1338.70" y="408.75" width="44.60" height="15.07" fill="#FAD4D5"/>
<rect x="940.00" y="423.52" width="44.60" height="15.07" fill="#C0C5E1"/>
<rect x="984.30" y="423.52" width="44.60" height="15.07" fill="#BBC1DE"/>
<rect x="1028.60" y="423.52" width="44.60" height="15.07" fill="#C0C5E1"/>
<rect x="1072.90" y="423.52" width="44.60" height="15.07" fill="#B7BDDC"/>
<rect x="1117.20" y="423.52" width="44.60" height="15.07" fill="#C9CEE5"/>
<rect x="1161.50" y="423.52" width="44.60" height="15.07" fill="#DBDEEE"/>
<rect x="1205.80" y="423.52" width="44.60" height="15.07" fill="#E31E24"/>
<rect x="1250.10" y="423.52" width="44.60" height="15.07" fill="#F6B5B7"/>
<rect x="1294.40" y="423.52" width="44.60" height="15.07" fill="#EC6468"/>
<rect x="1338.70" y="423.52" width="44.60" height="15.07" fill="#FAFBFD"/>
<rect x="940.00" y="438.29" width="44.60" height="15.07" fill="#A4ACD4"/>
<rect x="984.30" y="438.29" width="44.60" height="15.07" fill="#929CCB"/>
<rect x="1028.60" y="438.29" width="44.60" height="15.07" fill="#EDEEF6"/>
<rect x="1072.90" y="438.29" width="44.60" height="15.07" fill="#D2D6E9"/>
<rect x="1117.20" y="438.29" width="44.60" height="15.07" fill="#BBC1DE"/>
<rect x="1161.50" y="438.29" width="44.60" height="15.07" fill="#F1F3F8"/>
<rect x="1205.80" y="438.29" width="44.60" height="15.07" fill="#E31E24"/>
<rect x="1250.10" y="438.29" width="44.60" height="15.07" fill="#F8C7C9"/>
<rect x="1294.40" y="438.29" width="44.60" height="15.07" fill="#EA585C"/>
<rect x="1338.70" y="438.29" width="44.60" height="15.07" fill="#EDEEF6"/>
<rect x="940.00" y="453.06" width="44.60" height="15.07" fill="#A4ACD4"/>
<rect x="984.30" y="453.06" width="44.60" height="15.07" fill="#A4ACD4"/>
<rect x="1028.60" y="453.06" width="44.60" height="15.07" fill="#FAFBFD"/>
<rect x="1072.90" y="453.06" width="44.60" height="15.07" fill="#A4ACD4"/>
<rect x="1117.20" y="453.06" width="44.60" height="15.07" fill="#BBC1DE"/>
<rect x="1161.50" y="453.06" width="44.60" height="15.07" fill="#FEF9F9"/>
<rect x="1205.80" y="453.06" width="44.60" height="15.07" fill="#E31E24"/>
<rect x="1250.10" y="453.06" width="44.60" height="15.07" fill="#FFFFFF"/>
<rect x="1294.40" y="453.06" width="44.60" height="15.07" fill="#EA585C"/>
<rect x="1338.70" y="453.06" width="44.60" height="15.07" fill="#FFFFFF"/>
<rect x="940.00" y="467.83" width="44.60" height="15.07" fill="#A9B1D6"/>
<rect x="984.30" y="467.83" width="44.60" height="15.07" fill="#A9B1D6"/>
<rect x="1028.60" y="467.83" width="44.60" height="15.07" fill="#A4ACD4"/>
<rect x="1072.90" y="467.83" width="44.60" height="15.07" fill="#A9B1D6"/>
<rect x="1117.20" y="467.83" width="44.60" height="15.07" fill="#A9B1D6"/>
<rect x="1161.50" y="467.83" width="44.60" height="15.07" fill="#ED6A6E"/>
<rect x="1205.80" y="467.83" width="44.60" height="15.07" fill="#E4262C"/>
<rect x="1250.10" y="467.83" width="44.60" height="15.07" fill="#FFFFFF"/>
<rect x="1294.40" y="467.83" width="44.60" height="15.07" fill="#EC6468"/>
<rect x="1338.70" y="467.83" width="44.60" height="15.07" fill="#F7C1C3"/>
<rect x="940.00" y="482.60" width="44.60" height="15.07" fill="#DBDEEE"/>
<rect x="984.30" y="482.60" width="44.60" height="15.07" fill="#97A0CD"/>
<rect x="1028.60" y="482.60" width="44.60" height="15.07" fill="#6E7BB9"/>
<rect x="1072.90" y="482.60" width="44.60" height="15.07" fill="#A0A8D1"/>
<rect x="1117.20" y="482.60" width="44.60" height="15.07" fill="#F1F3F8"/>
<rect x="1161.50" y="482.60" width="44.60" height="15.07" fill="#FADADB"/>
<rect x="1205.80" y="482.60" width="44.60" height="15.07" fill="#E4262C"/>
<rect x="1250.10" y="482.60" width="44.60" height="15.07" fill="#FADADB"/>
<rect x="1294.40" y="482.60" width="44.60" height="15.07" fill="#E8454A"/>
<rect x="1338.70" y="482.60" width="44.60" height="15.07" fill="#F9CECF"/>
<rect x="940.00" y="497.37" width="44.60" height="15.07" fill="#DFE2F0"/>
<rect x="984.30" y="497.37" width="44.60" height="15.07" fill="#97A0CD"/>
<rect x="1028.60" y="497.37" width="44.60" height="15.07" fill="#B7BDDC"/>
<rect x="1072.90" y="497.37" width="44.60" height="15.07" fill="#A0A8D1"/>
<rect x="1117.20" y="497.37" width="44.60" height="15.07" fill="#CDD2E7"/>
<rect x="1161.50" y="497.37" width="44.60" height="15.07" fill="#FDECED"/>
<rect x="1205.80" y="497.37" width="44.60" height="15.07" fill="#FDECED"/>
<rect x="1250.10" y="497.37" width="44.60" height="15.07" fill="#F4A8AB"/>
<rect x="1294.40" y="497.37" width="44.60" height="15.07" fill="#E31E24"/>
<rect x="1338.70" y="497.37" width="44.60" height="15.07" fill="#FBE0E1"/>
<rect x="940.00" y="512.14" width="44.60" height="15.07" fill="#A4ACD4"/>
<rect x="984.30" y="512.14" width="44.60" height="15.07" fill="#A4ACD4"/>
<rect x="1028.60" y="512.14" width="44.60" height="15.07" fill="#A4ACD4"/>
<rect x="1072.90" y="512.14" width="44.60" height="15.07" fill="#A4ACD4"/>
<rect x="1117.20" y="512.14" width="44.60" height="15.07" fill="#A4ACD4"/>
<rect x="1161.50" y="512.14" width="44.60" height="15.07" fill="#ED6A6E"/>
<rect x="1205.80" y="512.14" width="44.60" height="15.07" fill="#F7BBBD"/>
<rect x="1250.10" y="512.14" width="44.60" height="15.07" fill="#F7C1C3"/>
<rect x="1294.40" y="512.14" width="44.60" height="15.07" fill="#E6393E"/>
<rect x="1338.70" y="512.14" width="44.60" height="15.07" fill="#EB5E62"/>
<rect x="940.00" y="526.91" width="44.60" height="15.07" fill="#A4ACD4"/>
<rect x="984.30" y="526.91" width="44.60" height="15.07" fill="#A4ACD4"/>
<rect x="1028.60" y="526.91" width="44.60" height="15.07" fill="#A4ACD4"/>
<rect x="1072.90" y="526.91" width="44.60" height="15.07" fill="#A4ACD4"/>
<rect x="1117.20" y="526.91" width="44.60" height="15.07" fill="#A4ACD4"/>
<rect x="1161.50" y="526.91" width="44.60" height="15.07" fill="#E95256"/>
<rect x="1205.80" y="526.91" width="44.60" height="15.07" fill="#F7BBBD"/>
<rect x="1250.10" y="526.91" width="44.60" height="15.07" fill="#F08387"/>
<rect x="1294.40" y="526.91" width="44.60" height="15.07" fill="#EE777B"/>
<rect x="1338.70" y="526.91" width="44.60" height="15.07" fill="#ED6A6E"/>
<rect x="940.00" y="541.68" width="44.60" height="15.07" fill="#8994C6"/>
<rect x="984.30" y="541.68" width="44.60" height="15.07" fill="#DFE2F0"/>
<rect x="1028.60" y="541.68" width="44.60" height="15.07" fill="#97A0CD"/>
<rect x="1072.90" y="541.68" width="44.60" height="15.07" fill="#9BA4CF"/>
<rect x="1117.20" y="541.68" width="44.60" height="15.07" fill="#A0A8D1"/>
<rect x="1161.50" y="541.68" width="44.60" height="15.07" fill="#EC6468"/>
<rect x="1205.80" y="541.68" width="44.60" height="15.07" fill="#EF7D81"/>
<rect x="1250.10" y="541.68" width="44.60" height="15.07" fill="#EC6468"/>
<rect x="1294.40" y="541.68" width="44.60" height="15.07" fill="#EE777B"/>
<rect x="1338.70" y="541.68" width="44.60" height="15.07" fill="#F5AFB1"/>
<rect x="940.00" y="556.45" width="44.60" height="15.07" fill="#A4ACD4"/>
<rect x="984.30" y="556.45" width="44.60" height="15.07" fill="#A4ACD4"/>
<rect x="1028.60" y="556.45" width="44.60" height="15.07" fill="#A4ACD4"/>
<rect x="1072.90" y="556.45" width="44.60" height="15.07" fill="#A4ACD4"/>
<rect x="1117.20" y="556.45" width="44.60" height="15.07" fill="#AEB5D8"/>
<rect x="1161.50" y="556.45" width="44.60" height="15.07" fill="#EB5E62"/>
<rect x="1205.80" y="556.45" width="44.60" height="15.07" fill="#EB5E62"/>
<rect x="1250.10" y="556.45" width="44.60" height="15.07" fill="#F7C1C3"/>
<rect x="1294.40" y="556.45" width="44.60" height="15.07" fill="#EA585C"/>
<rect x="1338.70" y="556.45" width="44.60" height="15.07" fill="#F6B5B7"/>
<rect x="940.00" y="571.22" width="44.60" height="15.07" fill="#B2B9DA"/>
<rect x="984.30" y="571.22" width="44.60" height="15.07" fill="#A4ACD4"/>
<rect x="1028.60" y="571.22" width="44.60" height="15.07" fill="#929CCB"/>
<rect x="1072.90" y="571.22" width="44.60" height="15.07" fill="#A4ACD4"/>
<rect x="1117.20" y="571.22" width="44.60" height="15.07" fill="#A9B1D6"/>
<rect x="1161.50" y="571.22" width="44.60" height="15.07" fill="#ED6A6E"/>
<rect x="1205.80" y="571.22" width="44.60" height="15.07" fill="#E94C50"/>
<rect x="1250.10" y="571.22" width="44.60" height="15.07" fill="#F8C7C9"/>
<rect x="1294.40" y="571.22" width="44.60" height="15.07" fill="#EA585C"/>
<rect x="1338.70" y="571.22" width="44.60" height="15.07" fill="#F39C9F"/>
<rect x="940.00" y="585.99" width="44.60" height="15.07" fill="#A4ACD4"/>
<rect x="984.30" y="585.99" width="44.60" height="15.07" fill="#A4ACD4"/>
<rect x="1028.60" y="585.99" width="44.60" height="15.07" fill="#A4ACD4"/>
<rect x="1072.90" y="585.99" width="44.60" height="15.07" fill="#A4ACD4"/>
<rect x="1117.20" y="585.99" width="44.60" height="15.07" fill="#A4ACD4"/>
<rect x="1161.50" y="585.99" width="44.60" height="15.07" fill="#E63338"/>
<rect x="1205.80" y="585.99" width="44.60" height="15.07" fill="#F0898D"/>
<rect x="1250.10" y="585.99" width="44.60" height="15.07" fill="#F8C7C9"/>
<rect x="1294.40" y="585.99" width="44.60" height="15.07" fill="#ED6A6E"/>
<rect x="1338.70" y="585.99" width="44.60" height="15.07" fill="#F4A8AB"/>
<rect x="940.00" y="600.76" width="44.60" height="15.07" fill="#A4ACD4"/>
<rect x="984.30" y="600.76" width="44.60" height="15.07" fill="#A4ACD4"/>
<rect x="1028.60" y="600.76" width="44.60" height="15.07" fill="#A4ACD4"/>
<rect x="1072.90" y="600.76" width="44.60" height="15.07" fill="#A4ACD4"/>
<rect x="1117.20" y="600.76" width="44.60" height="15.07" fill="#AEB5D8"/>
<rect x="1161.50" y="600.76" width="44.60" height="15.07" fill="#E95256"/>
<rect x="1205.80" y="600.76" width="44.60" height="15.07" fill="#ED7174"/>
<rect x="1250.10" y="600.76" width="44.60" height="15.07" fill="#F29699"/>
<rect x="1294.40" y="600.76" width="44.60" height="15.07" fill="#E95256"/>
<rect x="1338.70" y="600.76" width="44.60" height="15.07" fill="#FAD4D5"/>
<rect x="940.00" y="615.53" width="44.60" height="15.07" fill="#AEB5D8"/>
<rect x="984.30" y="615.53" width="44.60" height="15.07" fill="#B7BDDC"/>
<rect x="1028.60" y="615.53" width="44.60" height="15.07" fill="#B2B9DA"/>
<rect x="1072.90" y="615.53" width="44.60" height="15.07" fill="#B2B9DA"/>
<rect x="1117.20" y="615.53" width="44.60" height="15.07" fill="#B7BDDC"/>
<rect x="1161.50" y="615.53" width="44.60" height="15.07" fill="#F4A8AB"/>
<rect x="1205.80" y="615.53" width="44.60" height="15.07" fill="#F1F3F8"/>
<rect x="1250.10" y="615.53" width="44.60" height="15.07" fill="#E31E24"/>
<rect x="1294.40" y="615.53" width="44.60" height="15.07" fill="#FADADB"/>
<rect x="1338.70" y="615.53" width="44.60" height="15.07" fill="#E95256"/>
<rect x="940.00" y="630.30" width="44.60" height="15.07" fill="#C0C5E1"/>
<rect x="984.30" y="630.30" width="44.60" height="15.07" fill="#929CCB"/>
<rect x="1028.60" y="630.30" width="44.60" height="15.07" fill="#BBC1DE"/>
<rect x="1072.90" y="630.30" width="44.60" height="15.07" fill="#B7BDDC"/>
<rect x="1117.20" y="630.30" width="44.60" height="15.07" fill="#D2D6E9"/>
<rect x="1161.50" y="630.30" width="44.60" height="15.07" fill="#D2D6E9"/>
<rect x="1205.80" y="630.30" width="44.60" height="15.07" fill="#F29699"/>
<rect x="1250.10" y="630.30" width="44.60" height="15.07" fill="#E31E24"/>
<rect x="1294.40" y="630.30" width="44.60" height="15.07" fill="#F8C7C9"/>
<rect x="1338.70" y="630.30" width="44.60" height="15.07" fill="#F39C9F"/>
<rect x="940.00" y="645.07" width="44.60" height="15.07" fill="#B2B9DA"/>
<rect x="984.30" y="645.07" width="44.60" height="15.07" fill="#B2B9DA"/>
<rect x="1028.60" y="645.07" width="44.60" height="15.07" fill="#B7BDDC"/>
<rect x="1072.90" y="645.07" width="44.60" height="15.07" fill="#B2B9DA"/>
<rect x="1117.20" y="645.07" width="44.60" height="15.07" fill="#B7BDDC"/>
<rect x="1161.50" y="645.07" width="44.60" height="15.07" fill="#DFE2F0"/>
<rect x="1205.80" y="645.07" width="44.60" height="15.07" fill="#E95256"/>
<rect x="1250.10" y="645.07" width="44.60" height="15.07" fill="#E31E24"/>
<rect x="1294.40" y="645.07" width="44.60" height="15.07" fill="#F7C1C3"/>
<rect x="1338.70" y="645.07" width="44.60" height="15.07" fill="#F5AFB1"/>
<rect x="940.00" y="659.84" width="44.60" height="15.07" fill="#97A0CD"/>
<rect x="984.30" y="659.84" width="44.60" height="15.07" fill="#C9CEE5"/>
<rect x="1028.60" y="659.84" width="44.60" height="15.07" fill="#A4ACD4"/>
<rect x="1072.90" y="659.84" width="44.60" height="15.07" fill="#B7BDDC"/>
<rect x="1117.20" y="659.84" width="44.60" height="15.07" fill="#B7BDDC"/>
<rect x="1161.50" y="659.84" width="44.60" height="15.07" fill="#FEF9F9"/>
<rect x="1205.80" y="659.84" width="44.60" height="15.07" fill="#E31E24"/>
<rect x="1250.10" y="659.84" width="44.60" height="15.07" fill="#EC6468"/>
<rect x="1294.40" y="659.84" width="44.60" height="15.07" fill="#F9CECF"/>
<rect x="1338.70" y="659.84" width="44.60" height="15.07" fill="#F6B5B7"/>
<rect x="940.00" y="674.61" width="44.60" height="15.07" fill="#A4ACD4"/>
<rect x="984.30" y="674.61" width="44.60" height="15.07" fill="#A4ACD4"/>
<rect x="1028.60" y="674.61" width="44.60" height="15.07" fill="#A4ACD4"/>
<rect x="1072.90" y="674.61" width="44.60" height="15.07" fill="#A4ACD4"/>
<rect x="1117.20" y="674.61" width="44.60" height="15.07" fill="#A4ACD4"/>
<rect x="1161.50" y="674.61" width="44.60" height="15.07" fill="#F7C1C3"/>
<rect x="1205.80" y="674.61" width="44.60" height="15.07" fill="#ED6A6E"/>
<rect x="1250.10" y="674.61" width="44.60" height="15.07" fill="#EB5E62"/>
<rect x="1294.40" y="674.61" width="44.60" height="15.07" fill="#F08387"/>
<rect x="1338.70" y="674.61" width="44.60" height="15.07" fill="#EB5E62"/>
<rect x="940.00" y="689.38" width="44.60" height="15.07" fill="#A4ACD4"/>
<rect x="984.30" y="689.38" width="44.60" height="15.07" fill="#A4ACD4"/>
<rect x="1028.60" y="689.38" width="44.60" height="15.07" fill="#A4ACD4"/>
<rect x="1072.90" y="689.38" width="44.60" height="15.07" fill="#A4ACD4"/>
<rect x="1117.20" y="689.38" width="44.60" height="15.07" fill="#A4ACD4"/>
<rect x="1161.50" y="689.38" width="44.60" height="15.07" fill="#F39C9F"/>
<rect x="1205.80" y="689.38" width="44.60" height="15.07" fill="#F08387"/>
<rect x="1250.10" y="689.38" width="44.60" height="15.07" fill="#E95256"/>
<rect x="1294.40" y="689.38" width="44.60" height="15.07" fill="#F0898D"/>
<rect x="1338.70" y="689.38" width="44.60" height="15.07" fill="#ED6A6E"/>
<rect x="940.00" y="704.15" width="44.60" height="15.07" fill="#A4ACD4"/>
<rect x="984.30" y="704.15" width="44.60" height="15.07" fill="#AEB5D8"/>
<rect x="1028.60" y="704.15" width="44.60" height="15.07" fill="#A4ACD4"/>
<rect x="1072.90" y="704.15" width="44.60" height="15.07" fill="#BBC1DE"/>
<rect x="1117.20" y="704.15" width="44.60" height="15.07" fill="#A4ACD4"/>
<rect x="1161.50" y="704.15" width="44.60" height="15.07" fill="#FDF3F3"/>
<rect x="1205.80" y="704.15" width="44.60" height="15.07" fill="#F3A2A5"/>
<rect x="1250.10" y="704.15" width="44.60" height="15.07" fill="#E31E24"/>
<rect x="1294.40" y="704.15" width="44.60" height="15.07" fill="#F39C9F"/>
<rect x="1338.70" y="704.15" width="44.60" height="15.07" fill="#EE777B"/>
<rect x="940.00" y="718.92" width="44.60" height="15.07" fill="#A4ACD4"/>
<rect x="984.30" y="718.92" width="44.60" height="15.07" fill="#A0A8D1"/>
<rect x="1028.60" y="718.92" width="44.60" height="15.07" fill="#C9CEE5"/>
<rect x="1072.90" y="718.92" width="44.60" height="15.07" fill="#97A0CD"/>
<rect x="1117.20" y="718.92" width="44.60" height="15.07" fill="#A4ACD4"/>
<rect x="1161.50" y="718.92" width="44.60" height="15.07" fill="#F9CECF"/>
<rect x="1205.80" y="718.92" width="44.60" height="15.07" fill="#ED6A6E"/>
<rect x="1250.10" y="718.92" width="44.60" height="15.07" fill="#E32026"/>
<rect x="1294.40" y="718.92" width="44.60" height="15.07" fill="#F3A2A5"/>
<rect x="1338.70" y="718.92" width="44.60" height="15.07" fill="#F19093"/>
<text x="1387.9" y="51.98" font-size="15.75" font-weight="bold">Bcl6</text>
<text x="1387.9" y="66.75" font-size="15.75" font-weight="bold">Ager</text>
<text x="1387.9" y="81.52" font-size="15.75" font-weight="bold">Gm21451</text>
<text x="1387.9" y="96.29" font-size="15.75" font-weight="bold">Ighg1</text>
<text x="1387.9" y="111.06" font-size="15.75" font-weight="bold">Ighv9−1</text>
<text x="1387.9" y="125.83" font-size="15.75" font-weight="bold">Igkv4−86</text>
<text x="1387.9" y="140.60" font-size="15.75" font-weight="bold">Igfbp1</text>
<text x="1387.9" y="155.37" font-size="15.75" font-weight="bold">Lck</text>
<text x="1387.9" y="170.15" font-size="15.75" font-weight="bold">Ighv1−74</text>
<text x="1387.9" y="184.91" font-size="15.75" font-weight="bold">Igkv2−109</text>
<text x="1387.9" y="199.69" font-size="15.75" font-weight="bold">Gm16867</text>
<text x="1387.9" y="214.45" font-size="15.75" font-weight="bold">Igkv6−32</text>
<text x="1387.9" y="229.22" font-size="15.75" font-weight="bold">Ighv1−59</text>
<text x="1387.9" y="243.99" font-size="15.75" font-weight="bold">Igkv2−112</text>
<text x="1387.9" y="258.76" font-size="15.75" font-weight="bold">Ccl5</text>
<text x="1387.9" y="273.54" font-size="15.75" font-weight="bold">Gsta2</text>
<text x="1387.9" y="288.31" font-size="15.75" font-weight="bold">Ciita</text>
<text x="1387.9" y="303.07" font-size="15.75" font-weight="bold">Apoe</text>
<text x="1387.9" y="317.85" font-size="15.75" font-weight="bold">Tnfrsf1b</text>
<text x="1387.9" y="332.62" font-size="15.75" font-weight="bold">Ccn2</text>
<text x="1387.9" y="347.38" font-size="15.75" font-weight="bold">Apod</text>
<text x="1387.9" y="362.16" font-size="15.75" font-weight="bold">Ucp1</text>
<text x="1387.9" y="376.93" font-size="15.75" font-weight="bold">Gcnt3</text>
<text x="1387.9" y="391.69" font-size="15.75" font-weight="bold">Ucp3</text>
<text x="1387.9" y="406.47" font-size="15.75" font-weight="bold">Krt14</text>
<text x="1387.9" y="421.24" font-size="15.75" font-weight="bold">Adrb3</text>
<text x="1387.9" y="436.00" font-size="15.75" font-weight="bold">Cdkn2b</text>
<text x="1387.9" y="450.78" font-size="15.75" font-weight="bold">Cd163</text>
<text x="1387.9" y="465.55" font-size="15.75" font-weight="bold">Cryab</text>
<text x="1387.9" y="480.31" font-size="15.75" font-weight="bold">Mybpc3</text>
<text x="1387.9" y="495.09" font-size="15.75" font-weight="bold">Ccl11</text>
<text x="1387.9" y="509.86" font-size="15.75" font-weight="bold">Tert</text>
<text x="1387.9" y="524.62" font-size="15.75" font-weight="bold">Gm13767</text>
<text x="1387.9" y="539.39" font-size="15.75" font-weight="bold">Gm4353</text>
<text x="1387.9" y="554.17" font-size="15.75" font-weight="bold">Retn</text>
<text x="1387.9" y="568.94" font-size="15.75" font-weight="bold">Gm12663</text>
<text x="1387.9" y="583.71" font-size="15.75" font-weight="bold">Cyp27b1</text>
<text x="1387.9" y="598.48" font-size="15.75" font-weight="bold">Gm18999</text>
<text x="1387.9" y="613.25" font-size="15.75" font-weight="bold">4930441H08Rik</text>
<text x="1387.9" y="628.01" font-size="15.75" font-weight="bold">Lep</text>
<text x="1387.9" y="642.78" font-size="15.75" font-weight="bold">Arg2</text>
<text x="1387.9" y="657.55" font-size="15.75" font-weight="bold">Hp</text>
<text x="1387.9" y="672.33" font-size="15.75" font-weight="bold">Ptgs2</text>
<text x="1387.9" y="687.10" font-size="15.75" font-weight="bold">Rps3a2</text>
<text x="1387.9" y="701.87" font-size="15.75" font-weight="bold">Tpm3−rs7</text>
<text x="1387.9" y="716.63" font-size="15.75" font-weight="bold">Bdnf</text>
<text x="1387.9" y="731.40" font-size="15.75" font-weight="bold">Ifi27l2a</text>
<path d="M940.0,76.4H930.0V91.2H940.0 M940.0,61.7H922.0V83.8H930.0 M940.0,46.9H919.4V72.7H922.0 M940.0,120.7H919.0V135.5H940.0 M940.0,106.0H915.7V128.1H919.0 M940.0,165.0H927.6V179.8H940.0 M940.0,224.1H931.6V238.9H940.0 M940.0,209.4H930.0V231.5H931.6 M940.0,194.6H925.4V220.4H930.0 M927.6,172.4H920.2V207.5H925.4 M940.0,312.7H932.3V327.5H940.0 M940.0,298.0H930.8V320.1H932.3 M940.0,283.2H926.5V309.1H930.8 M940.0,268.4H925.8V296.1H926.5 M940.0,253.7H919.4V282.3H925.8 M920.2,190.0H912.8V268.0H919.4 M940.0,150.3H906.0V229.0H912.8 M915.7,117.0H899.7V189.6H906.0 M919.4,59.8H892.8V153.3H899.7 M940.0,357.1H933.4V371.8H940.0 M940.0,342.3H920.8V364.4H933.4 M940.0,386.6H930.5V401.4H940.0 M940.0,416.1H932.2V430.9H940.0 M940.0,445.7H928.8V460.4H940.0 M932.2,423.5H926.0V453.1H928.8 M930.5,394.0H924.2V438.3H926.0 M940.0,475.2H922.0V490.0H940.0 M924.2,416.1H915.7V482.6H922.0 M920.8,353.4H906.5V449.4H915.7 M940.0,519.5H931.0V534.3H940.0 M940.0,563.8H936.0V578.6H940.0 M940.0,593.4H931.5V608.1H940.0 M936.0,571.2H931.0V600.8H931.5 M940.0,549.1H927.4V586.0H931.0 M931.0,526.9H924.6V567.5H927.4 M940.0,504.8H910.9V547.2H924.6 M940.0,637.7H930.5V652.5H940.0 M940.0,682.0H935.6V696.8H940.0 M940.0,711.5H930.5V726.3H940.0 M935.6,689.4H927.6V718.9H930.5 M940.0,667.2H919.1V704.1H927.6 M930.5,645.1H916.2V685.7H919.1 M940.0,622.9H907.1V665.4H916.2 M910.9,526.0H902.5V644.1H907.1 M906.5,401.4H884.3V585.1H902.5 M892.8,106.6H862.6V493.2H884.3" fill="none" stroke="#000" stroke-width="2.6" stroke-linecap="square"/>
<defs><linearGradient id="lg" x1="0" y1="0" x2="0" y2="1"><stop offset="0" stop-color="#E31E24"/><stop offset="0.5" stop-color="#FFFFFF"/><stop offset="1" stop-color="#4A5AA8"/></linearGradient></defs>
<rect x="1477.9" y="17.5" width="15" height="221.3" fill="url(#lg)"/>
<rect x="1477.9" y="221" width="15" height="2" fill="#fff"/>
<rect x="1488" y="218" width="9" height="9" fill="#fff" stroke="#EE8A85" stroke-width="2"/><rect x="1490.5" y="220.5" width="4" height="4" fill="none" stroke="#F4B0AC" stroke-width="1"/>
<text x="1498.5" y="24.4" font-size="13.5" font-weight="bold">2</text>
<text x="1498.5" y="79.8" font-size="13.5" font-weight="bold">1</text>
<text x="1498.5" y="135.7" font-size="13.5" font-weight="bold">0</text>
<text x="1498.5" y="191.2" font-size="13.5" font-weight="bold">−1</text>
<text x="1498.5" y="242.9" font-size="13.5" font-weight="bold">−2</text>
<rect x="39.6" y="724.1" width="186.0" height="24.0" fill="#D9D9D9"/>
<line x1="39.6" y1="748.4" x2="225.6" y2="748.4" stroke="#7a7570" stroke-width="1.1"/>
<text x="137.6" y="740.8" text-anchor="middle" font-size="15" font-weight="bold" fill="#1A1A1A">Ager</text>
<path d="M39.7,748.1V988.9H225.6V748.1" fill="none" stroke="#000" stroke-width="2.6" stroke-linejoin="round"/>
<line x1="39.7" y1="977.6" x2="39.7" y2="978.4" stroke="#fff" stroke-width="2.8"/>
<line x1="225.6" y1="977.6" x2="225.6" y2="978.4" stroke="#fff" stroke-width="2.8"/>
<line x1="39.7" y1="954.8" x2="39.7" y2="955.6" stroke="#fff" stroke-width="2.8"/>
<line x1="225.6" y1="954.8" x2="225.6" y2="955.6" stroke="#fff" stroke-width="2.8"/>
<line x1="39.7" y1="931.9" x2="39.7" y2="932.7" stroke="#fff" stroke-width="2.8"/>
<line x1="225.6" y1="931.9" x2="225.6" y2="932.7" stroke="#fff" stroke-width="2.8"/>
<line x1="39.7" y1="909.1" x2="39.7" y2="909.9" stroke="#fff" stroke-width="2.8"/>
<line x1="225.6" y1="909.1" x2="225.6" y2="909.9" stroke="#fff" stroke-width="2.8"/>
<line x1="39.7" y1="886.2" x2="39.7" y2="887.0" stroke="#fff" stroke-width="2.8"/>
<line x1="225.6" y1="886.2" x2="225.6" y2="887.0" stroke="#fff" stroke-width="2.8"/>
<line x1="39.7" y1="863.4" x2="39.7" y2="864.2" stroke="#fff" stroke-width="2.8"/>
<line x1="225.6" y1="863.4" x2="225.6" y2="864.2" stroke="#fff" stroke-width="2.8"/>
<line x1="39.7" y1="840.6" x2="39.7" y2="841.4" stroke="#fff" stroke-width="2.8"/>
<line x1="225.6" y1="840.6" x2="225.6" y2="841.4" stroke="#fff" stroke-width="2.8"/>
<line x1="39.7" y1="817.7" x2="39.7" y2="818.5" stroke="#fff" stroke-width="2.8"/>
<line x1="225.6" y1="817.7" x2="225.6" y2="818.5" stroke="#fff" stroke-width="2.8"/>
<line x1="39.7" y1="794.9" x2="39.7" y2="795.7" stroke="#fff" stroke-width="2.8"/>
<line x1="225.6" y1="794.9" x2="225.6" y2="795.7" stroke="#fff" stroke-width="2.8"/>
<line x1="39.7" y1="772.0" x2="39.7" y2="772.8" stroke="#fff" stroke-width="2.8"/>
<line x1="225.6" y1="772.0" x2="225.6" y2="772.8" stroke="#fff" stroke-width="2.8"/>
<line x1="35.6" y1="977.6" x2="39.6" y2="977.6" stroke="#333" stroke-width="1.6"/>
<line x1="35.6" y1="931.9" x2="39.6" y2="931.9" stroke="#333" stroke-width="1.6"/>
<line x1="35.6" y1="886.2" x2="39.6" y2="886.2" stroke="#333" stroke-width="1.6"/>
<line x1="35.6" y1="840.6" x2="39.6" y2="840.6" stroke="#333" stroke-width="1.6"/>
<line x1="35.6" y1="794.9" x2="39.6" y2="794.9" stroke="#333" stroke-width="1.6"/>
<line x1="35.6" y1="749.2" x2="39.6" y2="749.2" stroke="#333" stroke-width="1.6"/>
<line x1="89.8" y1="988.9" x2="89.8" y2="992.4" stroke="#333" stroke-width="1.6"/>
<line x1="174.3" y1="988.9" x2="174.3" y2="992.4" stroke="#333" stroke-width="1.6"/>
<text transform="translate(95.3,1006.0) scale(0.885,1)" text-anchor="middle" font-size="16.5" font-weight="bold">DOX</text>
<text transform="translate(189.8,1006.0) scale(0.882,1)" text-anchor="middle" font-size="16.5" font-weight="bold">DOX + UPDA</text>
<path d="M89.8,767.2V759.6H174.3V767.2" fill="none" stroke="#E09A2A" stroke-width="2.5"/>
<text x="132.1" y="761.8" text-anchor="middle" font-size="14" fill="#111">**</text>
<rect x="231.8" y="724.1" width="186.0" height="24.0" fill="#D9D9D9"/>
<line x1="231.8" y1="748.4" x2="417.8" y2="748.4" stroke="#7a7570" stroke-width="1.1"/>
<text x="329.8" y="740.8" text-anchor="middle" font-size="15" font-weight="bold" fill="#1A1A1A">Apod</text>
<path d="M231.9,748.1V988.9H417.8V748.1" fill="none" stroke="#000" stroke-width="2.6" stroke-linejoin="round"/>
<line x1="231.9" y1="977.6" x2="231.9" y2="978.4" stroke="#fff" stroke-width="2.8"/>
<line x1="417.8" y1="977.6" x2="417.8" y2="978.4" stroke="#fff" stroke-width="2.8"/>
<line x1="231.9" y1="954.8" x2="231.9" y2="955.6" stroke="#fff" stroke-width="2.8"/>
<line x1="417.8" y1="954.8" x2="417.8" y2="955.6" stroke="#fff" stroke-width="2.8"/>
<line x1="231.9" y1="931.9" x2="231.9" y2="932.7" stroke="#fff" stroke-width="2.8"/>
<line x1="417.8" y1="931.9" x2="417.8" y2="932.7" stroke="#fff" stroke-width="2.8"/>
<line x1="231.9" y1="909.1" x2="231.9" y2="909.9" stroke="#fff" stroke-width="2.8"/>
<line x1="417.8" y1="909.1" x2="417.8" y2="909.9" stroke="#fff" stroke-width="2.8"/>
<line x1="231.9" y1="886.2" x2="231.9" y2="887.0" stroke="#fff" stroke-width="2.8"/>
<line x1="417.8" y1="886.2" x2="417.8" y2="887.0" stroke="#fff" stroke-width="2.8"/>
<line x1="231.9" y1="863.4" x2="231.9" y2="864.2" stroke="#fff" stroke-width="2.8"/>
<line x1="417.8" y1="863.4" x2="417.8" y2="864.2" stroke="#fff" stroke-width="2.8"/>
<line x1="231.9" y1="840.6" x2="231.9" y2="841.4" stroke="#fff" stroke-width="2.8"/>
<line x1="417.8" y1="840.6" x2="417.8" y2="841.4" stroke="#fff" stroke-width="2.8"/>
<line x1="231.9" y1="817.7" x2="231.9" y2="818.5" stroke="#fff" stroke-width="2.8"/>
<line x1="417.8" y1="817.7" x2="417.8" y2="818.5" stroke="#fff" stroke-width="2.8"/>
<line x1="231.9" y1="794.9" x2="231.9" y2="795.7" stroke="#fff" stroke-width="2.8"/>
<line x1="417.8" y1="794.9" x2="417.8" y2="795.7" stroke="#fff" stroke-width="2.8"/>
<line x1="231.9" y1="772.0" x2="231.9" y2="772.8" stroke="#fff" stroke-width="2.8"/>
<line x1="417.8" y1="772.0" x2="417.8" y2="772.8" stroke="#fff" stroke-width="2.8"/>
<line x1="282.0" y1="988.9" x2="282.0" y2="992.4" stroke="#333" stroke-width="1.6"/>
<line x1="366.5" y1="988.9" x2="366.5" y2="992.4" stroke="#333" stroke-width="1.6"/>
<text transform="translate(287.5,1006.0) scale(0.885,1)" text-anchor="middle" font-size="16.5" font-weight="bold">DOX</text>
<text transform="translate(382.0,1006.0) scale(0.882,1)" text-anchor="middle" font-size="16.5" font-weight="bold">DOX + UPDA</text>
<path d="M282.0,767.2V759.6H366.5V767.2" fill="none" stroke="#E09A2A" stroke-width="2.5"/>
<text x="324.3" y="761.8" text-anchor="middle" font-size="14" fill="#111">*</text>
<rect x="424.1" y="724.1" width="186.0" height="24.0" fill="#D9D9D9"/>
<line x1="424.1" y1="748.4" x2="610.1" y2="748.4" stroke="#7a7570" stroke-width="1.1"/>
<text x="522.1" y="740.8" text-anchor="middle" font-size="15" font-weight="bold" fill="#1A1A1A">Bdnf</text>
<path d="M424.2,748.1V988.9H610.1V748.1" fill="none" stroke="#000" stroke-width="2.6" stroke-linejoin="round"/>
<line x1="424.2" y1="977.6" x2="424.2" y2="978.4" stroke="#fff" stroke-width="2.8"/>
<line x1="610.1" y1="977.6" x2="610.1" y2="978.4" stroke="#fff" stroke-width="2.8"/>
<line x1="424.2" y1="954.8" x2="424.2" y2="955.6" stroke="#fff" stroke-width="2.8"/>
<line x1="610.1" y1="954.8" x2="610.1" y2="955.6" stroke="#fff" stroke-width="2.8"/>
<line x1="424.2" y1="931.9" x2="424.2" y2="932.7" stroke="#fff" stroke-width="2.8"/>
<line x1="610.1" y1="931.9" x2="610.1" y2="932.7" stroke="#fff" stroke-width="2.8"/>
<line x1="424.2" y1="909.1" x2="424.2" y2="909.9" stroke="#fff" stroke-width="2.8"/>
<line x1="610.1" y1="909.1" x2="610.1" y2="909.9" stroke="#fff" stroke-width="2.8"/>
<line x1="424.2" y1="886.2" x2="424.2" y2="887.0" stroke="#fff" stroke-width="2.8"/>
<line x1="610.1" y1="886.2" x2="610.1" y2="887.0" stroke="#fff" stroke-width="2.8"/>
<line x1="424.2" y1="863.4" x2="424.2" y2="864.2" stroke="#fff" stroke-width="2.8"/>
<line x1="610.1" y1="863.4" x2="610.1" y2="864.2" stroke="#fff" stroke-width="2.8"/>
<line x1="424.2" y1="840.6" x2="424.2" y2="841.4" stroke="#fff" stroke-width="2.8"/>
<line x1="610.1" y1="840.6" x2="610.1" y2="841.4" stroke="#fff" stroke-width="2.8"/>
<line x1="424.2" y1="817.7" x2="424.2" y2="818.5" stroke="#fff" stroke-width="2.8"/>
<line x1="610.1" y1="817.7" x2="610.1" y2="818.5" stroke="#fff" stroke-width="2.8"/>
<line x1="424.2" y1="794.9" x2="424.2" y2="795.7" stroke="#fff" stroke-width="2.8"/>
<line x1="610.1" y1="794.9" x2="610.1" y2="795.7" stroke="#fff" stroke-width="2.8"/>
<line x1="424.2" y1="772.0" x2="424.2" y2="772.8" stroke="#fff" stroke-width="2.8"/>
<line x1="610.1" y1="772.0" x2="610.1" y2="772.8" stroke="#fff" stroke-width="2.8"/>
<line x1="474.3" y1="988.9" x2="474.3" y2="992.4" stroke="#333" stroke-width="1.6"/>
<line x1="558.8" y1="988.9" x2="558.8" y2="992.4" stroke="#333" stroke-width="1.6"/>
<text transform="translate(479.8,1006.0) scale(0.885,1)" text-anchor="middle" font-size="16.5" font-weight="bold">DOX</text>
<text transform="translate(574.3,1006.0) scale(0.882,1)" text-anchor="middle" font-size="16.5" font-weight="bold">DOX + UPDA</text>
<path d="M474.3,767.2V759.6H558.8V767.2" fill="none" stroke="#E09A2A" stroke-width="2.5"/>
<text x="516.6" y="761.8" text-anchor="middle" font-size="14" fill="#111">***</text>
<rect x="616.4" y="724.1" width="186.0" height="24.0" fill="#D9D9D9"/>
<line x1="616.4" y1="748.4" x2="802.4" y2="748.4" stroke="#7a7570" stroke-width="1.1"/>
<text x="714.4" y="740.8" text-anchor="middle" font-size="15" font-weight="bold" fill="#1A1A1A">Ccn2</text>
<path d="M616.5,748.1V988.9H802.4V748.1" fill="none" stroke="#000" stroke-width="2.6" stroke-linejoin="round"/>
<line x1="616.5" y1="977.6" x2="616.5" y2="978.4" stroke="#fff" stroke-width="2.8"/>
<line x1="802.4" y1="977.6" x2="802.4" y2="978.4" stroke="#fff" stroke-width="2.8"/>
<line x1="616.5" y1="954.8" x2="616.5" y2="955.6" stroke="#fff" stroke-width="2.8"/>
<line x1="802.4" y1="954.8" x2="802.4" y2="955.6" stroke="#fff" stroke-width="2.8"/>
<line x1="616.5" y1="931.9" x2="616.5" y2="932.7" stroke="#fff" stroke-width="2.8"/>
<line x1="802.4" y1="931.9" x2="802.4" y2="932.7" stroke="#fff" stroke-width="2.8"/>
<line x1="616.5" y1="909.1" x2="616.5" y2="909.9" stroke="#fff" stroke-width="2.8"/>
<line x1="802.4" y1="909.1" x2="802.4" y2="909.9" stroke="#fff" stroke-width="2.8"/>
<line x1="616.5" y1="886.2" x2="616.5" y2="887.0" stroke="#fff" stroke-width="2.8"/>
<line x1="802.4" y1="886.2" x2="802.4" y2="887.0" stroke="#fff" stroke-width="2.8"/>
<line x1="616.5" y1="863.4" x2="616.5" y2="864.2" stroke="#fff" stroke-width="2.8"/>
<line x1="802.4" y1="863.4" x2="802.4" y2="864.2" stroke="#fff" stroke-width="2.8"/>
<line x1="616.5" y1="840.6" x2="616.5" y2="841.4" stroke="#fff" stroke-width="2.8"/>
<line x1="802.4" y1="840.6" x2="802.4" y2="841.4" stroke="#fff" stroke-width="2.8"/>
<line x1="616.5" y1="817.7" x2="616.5" y2="818.5" stroke="#fff" stroke-width="2.8"/>
<line x1="802.4" y1="817.7" x2="802.4" y2="818.5" stroke="#fff" stroke-width="2.8"/>
<line x1="616.5" y1="794.9" x2="616.5" y2="795.7" stroke="#fff" stroke-width="2.8"/>
<line x1="802.4" y1="794.9" x2="802.4" y2="795.7" stroke="#fff" stroke-width="2.8"/>
<line x1="616.5" y1="772.0" x2="616.5" y2="772.8" stroke="#fff" stroke-width="2.8"/>
<line x1="802.4" y1="772.0" x2="802.4" y2="772.8" stroke="#fff" stroke-width="2.8"/>
<line x1="666.6" y1="988.9" x2="666.6" y2="992.4" stroke="#333" stroke-width="1.6"/>
<line x1="751.1" y1="988.9" x2="751.1" y2="992.4" stroke="#333" stroke-width="1.6"/>
<text transform="translate(672.1,1006.0) scale(0.885,1)" text-anchor="middle" font-size="16.5" font-weight="bold">DOX</text>
<text transform="translate(766.6,1006.0) scale(0.882,1)" text-anchor="middle" font-size="16.5" font-weight="bold">DOX + UPDA</text>
<path d="M666.6,767.2V759.6H751.1V767.2" fill="none" stroke="#E09A2A" stroke-width="2.5"/>
<text x="708.9" y="761.8" text-anchor="middle" font-size="14" fill="#111">*</text>
<rect x="39.6" y="1019.6" width="186.0" height="24.0" fill="#D9D9D9"/>
<line x1="39.6" y1="1043.9" x2="225.6" y2="1043.9" stroke="#7a7570" stroke-width="1.1"/>
<text x="137.6" y="1036.3" text-anchor="middle" font-size="15" font-weight="bold" fill="#1A1A1A">Lep</text>
<path d="M39.7,1043.6V1284.4H225.6V1043.6" fill="none" stroke="#000" stroke-width="2.6" stroke-linejoin="round"/>
<line x1="39.7" y1="1273.1" x2="39.7" y2="1273.9" stroke="#fff" stroke-width="2.8"/>
<line x1="225.6" y1="1273.1" x2="225.6" y2="1273.9" stroke="#fff" stroke-width="2.8"/>
<line x1="39.7" y1="1250.3" x2="39.7" y2="1251.1" stroke="#fff" stroke-width="2.8"/>
<line x1="225.6" y1="1250.3" x2="225.6" y2="1251.1" stroke="#fff" stroke-width="2.8"/>
<line x1="39.7" y1="1227.4" x2="39.7" y2="1228.2" stroke="#fff" stroke-width="2.8"/>
<line x1="225.6" y1="1227.4" x2="225.6" y2="1228.2" stroke="#fff" stroke-width="2.8"/>
<line x1="39.7" y1="1204.6" x2="39.7" y2="1205.4" stroke="#fff" stroke-width="2.8"/>
<line x1="225.6" y1="1204.6" x2="225.6" y2="1205.4" stroke="#fff" stroke-width="2.8"/>
<line x1="39.7" y1="1181.7" x2="39.7" y2="1182.5" stroke="#fff" stroke-width="2.8"/>
<line x1="225.6" y1="1181.7" x2="225.6" y2="1182.5" stroke="#fff" stroke-width="2.8"/>
<line x1="39.7" y1="1158.9" x2="39.7" y2="1159.7" stroke="#fff" stroke-width="2.8"/>
<line x1="225.6" y1="1158.9" x2="225.6" y2="1159.7" stroke="#fff" stroke-width="2.8"/>
<line x1="39.7" y1="1136.1" x2="39.7" y2="1136.9" stroke="#fff" stroke-width="2.8"/>
<line x1="225.6" y1="1136.1" x2="225.6" y2="1136.9" stroke="#fff" stroke-width="2.8"/>
<line x1="39.7" y1="1113.2" x2="39.7" y2="1114.0" stroke="#fff" stroke-width="2.8"/>
<line x1="225.6" y1="1113.2" x2="225.6" y2="1114.0" stroke="#fff" stroke-width="2.8"/>
<line x1="39.7" y1="1090.4" x2="39.7" y2="1091.2" stroke="#fff" stroke-width="2.8"/>
<line x1="225.6" y1="1090.4" x2="225.6" y2="1091.2" stroke="#fff" stroke-width="2.8"/>
<line x1="39.7" y1="1067.5" x2="39.7" y2="1068.3" stroke="#fff" stroke-width="2.8"/>
<line x1="225.6" y1="1067.5" x2="225.6" y2="1068.3" stroke="#fff" stroke-width="2.8"/>
<line x1="35.6" y1="1273.1" x2="39.6" y2="1273.1" stroke="#333" stroke-width="1.6"/>
<line x1="35.6" y1="1227.4" x2="39.6" y2="1227.4" stroke="#333" stroke-width="1.6"/>
<line x1="35.6" y1="1181.7" x2="39.6" y2="1181.7" stroke="#333" stroke-width="1.6"/>
<line x1="35.6" y1="1136.1" x2="39.6" y2="1136.1" stroke="#333" stroke-width="1.6"/>
<line x1="35.6" y1="1090.4" x2="39.6" y2="1090.4" stroke="#333" stroke-width="1.6"/>
<line x1="35.6" y1="1044.7" x2="39.6" y2="1044.7" stroke="#333" stroke-width="1.6"/>
<line x1="89.8" y1="1284.4" x2="89.8" y2="1287.9" stroke="#333" stroke-width="1.6"/>
<line x1="174.3" y1="1284.4" x2="174.3" y2="1287.9" stroke="#333" stroke-width="1.6"/>
<text transform="translate(95.3,1301.5) scale(0.885,1)" text-anchor="middle" font-size="16.5" font-weight="bold">DOX</text>
<text transform="translate(189.8,1301.5) scale(0.882,1)" text-anchor="middle" font-size="16.5" font-weight="bold">DOX + UPDA</text>
<path d="M89.8,1062.7V1055.1H174.3V1062.7" fill="none" stroke="#E09A2A" stroke-width="2.5"/>
<text x="132.1" y="1057.3" text-anchor="middle" font-size="14" fill="#111">**</text>
<rect x="231.8" y="1019.6" width="186.0" height="24.0" fill="#D9D9D9"/>
<line x1="231.8" y1="1043.9" x2="417.8" y2="1043.9" stroke="#7a7570" stroke-width="1.1"/>
<text x="329.8" y="1036.3" text-anchor="middle" font-size="15" font-weight="bold" fill="#1A1A1A">Tert</text>
<path d="M231.9,1043.6V1284.4H417.8V1043.6" fill="none" stroke="#000" stroke-width="2.6" stroke-linejoin="round"/>
<line x1="231.9" y1="1273.1" x2="231.9" y2="1273.9" stroke="#fff" stroke-width="2.8"/>
<line x1="417.8" y1="1273.1" x2="417.8" y2="1273.9" stroke="#fff" stroke-width="2.8"/>
<line x1="231.9" y1="1250.3" x2="231.9" y2="1251.1" stroke="#fff" stroke-width="2.8"/>
<line x1="417.8" y1="1250.3" x2="417.8" y2="1251.1" stroke="#fff" stroke-width="2.8"/>
<line x1="231.9" y1="1227.4" x2="231.9" y2="1228.2" stroke="#fff" stroke-width="2.8"/>
<line x1="417.8" y1="1227.4" x2="417.8" y2="1228.2" stroke="#fff" stroke-width="2.8"/>
<line x1="231.9" y1="1204.6" x2="231.9" y2="1205.4" stroke="#fff" stroke-width="2.8"/>
<line x1="417.8" y1="1204.6" x2="417.8" y2="1205.4" stroke="#fff" stroke-width="2.8"/>
<line x1="231.9" y1="1181.7" x2="231.9" y2="1182.5" stroke="#fff" stroke-width="2.8"/>
<line x1="417.8" y1="1181.7" x2="417.8" y2="1182.5" stroke="#fff" stroke-width="2.8"/>
<line x1="231.9" y1="1158.9" x2="231.9" y2="1159.7" stroke="#fff" stroke-width="2.8"/>
<line x1="417.8" y1="1158.9" x2="417.8" y2="1159.7" stroke="#fff" stroke-width="2.8"/>
<line x1="231.9" y1="1136.1" x2="231.9" y2="1136.9" stroke="#fff" stroke-width="2.8"/>
<line x1="417.8" y1="1136.1" x2="417.8" y2="1136.9" stroke="#fff" stroke-width="2.8"/>
<line x1="231.9" y1="1113.2" x2="231.9" y2="1114.0" stroke="#fff" stroke-width="2.8"/>
<line x1="417.8" y1="1113.2" x2="417.8" y2="1114.0" stroke="#fff" stroke-width="2.8"/>
<line x1="231.9" y1="1090.4" x2="231.9" y2="1091.2" stroke="#fff" stroke-width="2.8"/>
<line x1="417.8" y1="1090.4" x2="417.8" y2="1091.2" stroke="#fff" stroke-width="2.8"/>
<line x1="231.9" y1="1067.5" x2="231.9" y2="1068.3" stroke="#fff" stroke-width="2.8"/>
<line x1="417.8" y1="1067.5" x2="417.8" y2="1068.3" stroke="#fff" stroke-width="2.8"/>
<line x1="282.0" y1="1284.4" x2="282.0" y2="1287.9" stroke="#333" stroke-width="1.6"/>
<line x1="366.5" y1="1284.4" x2="366.5" y2="1287.9" stroke="#333" stroke-width="1.6"/>
<text transform="translate(287.5,1301.5) scale(0.885,1)" text-anchor="middle" font-size="16.5" font-weight="bold">DOX</text>
<text transform="translate(382.0,1301.5) scale(0.882,1)" text-anchor="middle" font-size="16.5" font-weight="bold">DOX + UPDA</text>
<path d="M282.0,1062.7V1055.1H366.5V1062.7" fill="none" stroke="#E09A2A" stroke-width="2.5"/>
<text x="324.3" y="1057.3" text-anchor="middle" font-size="14" fill="#111">**</text>
<rect x="424.1" y="1019.6" width="186.0" height="24.0" fill="#D9D9D9"/>
<line x1="424.1" y1="1043.9" x2="610.1" y2="1043.9" stroke="#7a7570" stroke-width="1.1"/>
<text x="522.1" y="1036.3" text-anchor="middle" font-size="15" font-weight="bold" fill="#1A1A1A">Ucp1</text>
<path d="M424.2,1043.6V1284.4H610.1V1043.6" fill="none" stroke="#000" stroke-width="2.6" stroke-linejoin="round"/>
<line x1="424.2" y1="1273.1" x2="424.2" y2="1273.9" stroke="#fff" stroke-width="2.8"/>
<line x1="610.1" y1="1273.1" x2="610.1" y2="1273.9" stroke="#fff" stroke-width="2.8"/>
<line x1="424.2" y1="1250.3" x2="424.2" y2="1251.1" stroke="#fff" stroke-width="2.8"/>
<line x1="610.1" y1="1250.3" x2="610.1" y2="1251.1" stroke="#fff" stroke-width="2.8"/>
<line x1="424.2" y1="1227.4" x2="424.2" y2="1228.2" stroke="#fff" stroke-width="2.8"/>
<line x1="610.1" y1="1227.4" x2="610.1" y2="1228.2" stroke="#fff" stroke-width="2.8"/>
<line x1="424.2" y1="1204.6" x2="424.2" y2="1205.4" stroke="#fff" stroke-width="2.8"/>
<line x1="610.1" y1="1204.6" x2="610.1" y2="1205.4" stroke="#fff" stroke-width="2.8"/>
<line x1="424.2" y1="1181.7" x2="424.2" y2="1182.5" stroke="#fff" stroke-width="2.8"/>
<line x1="610.1" y1="1181.7" x2="610.1" y2="1182.5" stroke="#fff" stroke-width="2.8"/>
<line x1="424.2" y1="1158.9" x2="424.2" y2="1159.7" stroke="#fff" stroke-width="2.8"/>
<line x1="610.1" y1="1158.9" x2="610.1" y2="1159.7" stroke="#fff" stroke-width="2.8"/>
<line x1="424.2" y1="1136.1" x2="424.2" y2="1136.9" stroke="#fff" stroke-width="2.8"/>
<line x1="610.1" y1="1136.1" x2="610.1" y2="1136.9" stroke="#fff" stroke-width="2.8"/>
<line x1="424.2" y1="1113.2" x2="424.2" y2="1114.0" stroke="#fff" stroke-width="2.8"/>
<line x1="610.1" y1="1113.2" x2="610.1" y2="1114.0" stroke="#fff" stroke-width="2.8"/>
<line x1="424.2" y1="1090.4" x2="424.2" y2="1091.2" stroke="#fff" stroke-width="2.8"/>
<line x1="610.1" y1="1090.4" x2="610.1" y2="1091.2" stroke="#fff" stroke-width="2.8"/>
<line x1="424.2" y1="1067.5" x2="424.2" y2="1068.3" stroke="#fff" stroke-width="2.8"/>
<line x1="610.1" y1="1067.5" x2="610.1" y2="1068.3" stroke="#fff" stroke-width="2.8"/>
<line x1="474.3" y1="1284.4" x2="474.3" y2="1287.9" stroke="#333" stroke-width="1.6"/>
<line x1="558.8" y1="1284.4" x2="558.8" y2="1287.9" stroke="#333" stroke-width="1.6"/>
<text transform="translate(479.8,1301.5) scale(0.885,1)" text-anchor="middle" font-size="16.5" font-weight="bold">DOX</text>
<text transform="translate(574.3,1301.5) scale(0.882,1)" text-anchor="middle" font-size="16.5" font-weight="bold">DOX + UPDA</text>
<path d="M474.3,1062.7V1055.1H558.8V1062.7" fill="none" stroke="#E09A2A" stroke-width="2.5"/>
<text x="516.6" y="1057.3" text-anchor="middle" font-size="14" fill="#111">*</text>
<rect x="616.4" y="1019.6" width="186.0" height="24.0" fill="#D9D9D9"/>
<line x1="616.4" y1="1043.9" x2="802.4" y2="1043.9" stroke="#7a7570" stroke-width="1.1"/>
<text x="714.4" y="1036.3" text-anchor="middle" font-size="15" font-weight="bold" fill="#1A1A1A">Ucp3</text>
<path d="M616.5,1043.6V1284.4H802.4V1043.6" fill="none" stroke="#000" stroke-width="2.6" stroke-linejoin="round"/>
<line x1="616.5" y1="1273.1" x2="616.5" y2="1273.9" stroke="#fff" stroke-width="2.8"/>
<line x1="802.4" y1="1273.1" x2="802.4" y2="1273.9" stroke="#fff" stroke-width="2.8"/>
<line x1="616.5" y1="1250.3" x2="616.5" y2="1251.1" stroke="#fff" stroke-width="2.8"/>
<line x1="802.4" y1="1250.3" x2="802.4" y2="1251.1" stroke="#fff" stroke-width="2.8"/>
<line x1="616.5" y1="1227.4" x2="616.5" y2="1228.2" stroke="#fff" stroke-width="2.8"/>
<line x1="802.4" y1="1227.4" x2="802.4" y2="1228.2" stroke="#fff" stroke-width="2.8"/>
<line x1="616.5" y1="1204.6" x2="616.5" y2="1205.4" stroke="#fff" stroke-width="2.8"/>
<line x1="802.4" y1="1204.6" x2="802.4" y2="1205.4" stroke="#fff" stroke-width="2.8"/>
<line x1="616.5" y1="1181.7" x2="616.5" y2="1182.5" stroke="#fff" stroke-width="2.8"/>
<line x1="802.4" y1="1181.7" x2="802.4" y2="1182.5" stroke="#fff" stroke-width="2.8"/>
<line x1="616.5" y1="1158.9" x2="616.5" y2="1159.7" stroke="#fff" stroke-width="2.8"/>
<line x1="802.4" y1="1158.9" x2="802.4" y2="1159.7" stroke="#fff" stroke-width="2.8"/>
<line x1="616.5" y1="1136.1" x2="616.5" y2="1136.9" stroke="#fff" stroke-width="2.8"/>
<line x1="802.4" y1="1136.1" x2="802.4" y2="1136.9" stroke="#fff" stroke-width="2.8"/>
<line x1="616.5" y1="1113.2" x2="616.5" y2="1114.0" stroke="#fff" stroke-width="2.8"/>
<line x1="802.4" y1="1113.2" x2="802.4" y2="1114.0" stroke="#fff" stroke-width="2.8"/>
<line x1="616.5" y1="1090.4" x2="616.5" y2="1091.2" stroke="#fff" stroke-width="2.8"/>
<line x1="802.4" y1="1090.4" x2="802.4" y2="1091.2" stroke="#fff" stroke-width="2.8"/>
<line x1="616.5" y1="1067.5" x2="616.5" y2="1068.3" stroke="#fff" stroke-width="2.8"/>
<line x1="802.4" y1="1067.5" x2="802.4" y2="1068.3" stroke="#fff" stroke-width="2.8"/>
<line x1="666.6" y1="1284.4" x2="666.6" y2="1287.9" stroke="#333" stroke-width="1.6"/>
<line x1="751.1" y1="1284.4" x2="751.1" y2="1287.9" stroke="#333" stroke-width="1.6"/>
<text transform="translate(672.1,1301.5) scale(0.885,1)" text-anchor="middle" font-size="16.5" font-weight="bold">DOX</text>
<text transform="translate(766.6,1301.5) scale(0.882,1)" text-anchor="middle" font-size="16.5" font-weight="bold">DOX + UPDA</text>
<path d="M666.6,1062.7V1055.1H751.1V1062.7" fill="none" stroke="#E09A2A" stroke-width="2.5"/>
<text x="708.9" y="1057.3" text-anchor="middle" font-size="14" fill="#111">***</text>
<text x="35" y="982.6" text-anchor="end" font-size="14" font-weight="bold" fill="#4D4D4D">0</text>
<text x="35" y="936.9" text-anchor="end" font-size="14" font-weight="bold" fill="#4D4D4D">1</text>
<text x="35" y="891.2" text-anchor="end" font-size="14" font-weight="bold" fill="#4D4D4D">2</text>
<text x="35" y="845.6" text-anchor="end" font-size="14" font-weight="bold" fill="#4D4D4D">3</text>
<text x="35" y="799.9" text-anchor="end" font-size="14" font-weight="bold" fill="#4D4D4D">4</text>
<text x="35" y="754.2" text-anchor="end" font-size="14" font-weight="bold" fill="#4D4D4D">5</text>
<text x="35" y="1278.1" text-anchor="end" font-size="14" font-weight="bold" fill="#4D4D4D">0</text>
<text x="35" y="1232.4" text-anchor="end" font-size="14" font-weight="bold" fill="#4D4D4D">1</text>
<text x="35" y="1186.7" text-anchor="end" font-size="14" font-weight="bold" fill="#4D4D4D">2</text>
<text x="35" y="1141.1" text-anchor="end" font-size="14" font-weight="bold" fill="#4D4D4D">3</text>
<text x="35" y="1095.4" text-anchor="end" font-size="14" font-weight="bold" fill="#4D4D4D">4</text>
<text x="35" y="1049.7" text-anchor="end" font-size="14" font-weight="bold" fill="#4D4D4D">5</text>
<text transform="translate(22.5,976.8) rotate(-90)" text-anchor="middle" font-size="16" font-weight="bold">Log<tspan font-size="11" dy="3">2</tspan><tspan dy="-3">(TPM+1)</tspan></text>
<path d="M71.0,919.8C71.0,919.8 110.0,919.8 110.0,919.8C110.0,919.8 113.8,924.2 117.0,926.2C120.2,928.2 129.3,929.9 129.3,931.6C129.3,933.3 120.2,935.1 117.0,936.5C113.8,937.9 110.0,939.9 110.0,939.9C110.0,939.9 70.0,939.9 70.0,939.9C70.0,939.9 62.9,937.3 59.7,936.0C56.5,934.7 51.4,933.2 51.0,932.0C50.6,930.8 54.1,930.5 57.4,928.5C60.7,926.5 71.0,919.8 71.0,919.8Z" fill="none" stroke="#E09A2A" stroke-width="2.5" stroke-linejoin="round"/>
<rect x="78.0" y="924.6" width="25.0" height="7.8" fill="none" stroke="#E09A2A" stroke-width="2.5"/><line x1="78.0" y1="928.5" x2="103.0" y2="928.5" stroke="#E09A2A" stroke-width="2.5"/>
<line x1="89.8" y1="919.5" x2="89.8" y2="940.0" stroke="#E09A2A" stroke-width="2.5"/>
<circle cx="59.2" cy="939.9" r="3.6" fill="#E09A2A"/><circle cx="75.7" cy="933.0" r="3.6" fill="#E09A2A"/><circle cx="89.8" cy="919.3" r="3.6" fill="#E09A2A"/><circle cx="98.5" cy="926.2" r="3.6" fill="#E09A2A"/><circle cx="122.5" cy="931.4" r="3.6" fill="#E09A2A"/>
<path d="M160.0,942.2C160.0,942.2 189.8,942.2 189.8,942.2C189.8,942.2 195.2,946.2 198.0,948.5C200.8,950.8 205.7,953.8 206.5,955.8C207.3,957.8 203.0,960.4 203.0,960.4C203.0,960.4 151.0,960.4 151.0,960.4C151.0,960.4 143.5,958.4 143.5,956.5C143.5,954.6 148.2,951.4 151.0,949.0C153.8,946.6 160.0,942.2 160.0,942.2Z" fill="none" stroke="#5AAEDD" stroke-width="2.5" stroke-linejoin="round"/>
<rect x="161.3" y="948.3" width="26.2" height="9.9" fill="none" stroke="#5AAEDD" stroke-width="2.5"/><line x1="161.3" y1="952.5" x2="187.5" y2="952.5" stroke="#5AAEDD" stroke-width="2.5"/><line x1="161.3" y1="955.0" x2="187.5" y2="955.0" stroke="#5AAEDD" stroke-width="2.5"/>
<line x1="174.3" y1="942.2" x2="174.3" y2="960.4" stroke="#5AAEDD" stroke-width="2.5"/>
<circle cx="149.2" cy="948.3" r="3.6" fill="#5AAEDD"/><circle cx="154.4" cy="954.3" r="3.6" fill="#5AAEDD"/><circle cx="167.0" cy="961.0" r="3.6" fill="#5AAEDD"/><circle cx="199.0" cy="941.5" r="3.6" fill="#5AAEDD"/>
<path d="M263.6,883.5C263.6,883.5 301.5,883.5 301.5,883.5C301.5,883.5 301.2,889.9 302.5,893.0C303.8,896.1 306.2,898.8 309.0,902.0C311.8,905.2 317.6,909.4 319.5,912.0C321.4,914.6 321.2,915.5 320.5,917.5C319.8,919.5 317.3,922.0 315.0,924.0C312.7,926.0 306.5,929.6 306.5,929.6C306.5,929.6 258.5,929.6 258.5,929.6C258.5,929.6 251.5,926.3 249.0,924.0C246.5,921.7 244.2,918.3 243.7,916.0C243.2,913.7 243.9,912.5 246.0,910.0C248.1,907.5 253.3,904.0 256.0,901.0C258.7,898.0 261.0,894.9 262.3,892.0C263.6,889.1 263.6,883.5 263.6,883.5Z" fill="none" stroke="#E09A2A" stroke-width="2.5" stroke-linejoin="round"/>
<rect x="269.5" y="900.0" width="26.7" height="17.0" fill="none" stroke="#E09A2A" stroke-width="2.5"/><line x1="269.5" y1="913.6" x2="296.2" y2="913.6" stroke="#E09A2A" stroke-width="2.5"/>
<line x1="282.5" y1="883.5" x2="282.5" y2="929.6" stroke="#E09A2A" stroke-width="2.5"/>
<circle cx="270.0" cy="883.5" r="3.6" fill="#E09A2A"/><circle cx="249.4" cy="912.5" r="3.6" fill="#E09A2A"/><circle cx="264.9" cy="917.0" r="3.6" fill="#E09A2A"/><circle cx="276.3" cy="929.2" r="3.6" fill="#E09A2A"/><circle cx="288.2" cy="899.5" r="3.6" fill="#E09A2A"/>
<path d="M356.7,831.9C356.7,831.9 377.3,831.9 377.3,831.9C377.3,831.9 380.6,841.1 381.5,846.0C382.4,850.9 383.1,854.5 383.0,861.0C382.9,867.5 381.6,874.6 381.0,885.0C380.4,895.4 379.1,923.2 379.1,923.2C379.1,923.2 355.6,923.2 355.6,923.2C355.6,923.2 353.6,895.4 353.0,885.0C352.4,874.6 351.8,867.5 351.7,861.0C351.6,854.5 351.7,850.9 352.5,846.0C353.3,841.1 356.7,831.9 356.7,831.9Z" fill="none" stroke="#5AAEDD" stroke-width="2.5" stroke-linejoin="round"/>
<rect x="354.4" y="863.4" width="25.1" height="43.4" fill="none" stroke="#5AAEDD" stroke-width="2.5"/>
<line x1="367.0" y1="831.9" x2="367.0" y2="923.2" stroke="#5AAEDD" stroke-width="2.5"/>
<circle cx="344.1" cy="831.0" r="3.6" fill="#5AAEDD"/><circle cx="334.6" cy="906.3" r="3.6" fill="#5AAEDD"/><circle cx="383.0" cy="863.4" r="3.6" fill="#5AAEDD"/><circle cx="375.4" cy="863.0" r="3.6" fill="#5AAEDD"/><circle cx="394.8" cy="923.2" r="3.6" fill="#5AAEDD"/>
<path d="M436,944.5 Q445,940.5 458,939.5 L460,937 L496,937 L498,940 Q508,941 514.5,944.5 Q508,948.5 480,949.2 Q450,949 436,944.5Z" fill="#E09A2A"/>
<path d="M446,944.2 Q452,942.5 458,942.3 L458,946.5 Q450,946.2 446,944.2Z M498,942.3 Q505,943 509,944.5 Q505,946 498,946.5Z" fill="#fff" opacity="0.85"/>
<line x1="466" y1="941.3" x2="471" y2="941.3" stroke="#fff" stroke-width="1" opacity="0.6"/><line x1="477" y1="941.3" x2="483" y2="941.3" stroke="#fff" stroke-width="1" opacity="0.6"/>
<circle cx="442.5" cy="944.5" r="3.8" fill="#E09A2A"/><circle cx="468.8" cy="947.9" r="3.8" fill="#E09A2A"/><circle cx="474.5" cy="936.5" r="3.8" fill="#E09A2A"/><circle cx="493.9" cy="937.0" r="3.8" fill="#E09A2A"/>
<path d="M547.5,886.8 Q559,884.5 571.5,886.8 Q566,890 561.3,893.5 L560,898 L558,898 L556.7,893.5 Q552,890 547.5,886.8Z" fill="#5AAEDD"/>
<path d="M547.5,916.2 Q559,918.5 571.5,916.2 Q566,913 561.3,909.5 L560,905 L558,905 L556.7,909.5 Q552,913 547.5,916.2Z" fill="#5AAEDD"/>
<path d="M531,903 Q535,898 548,897.5 L570,897.5 Q578,899 585,903.4 Q578,908 570,909 L548,909 Q535,908.5 531,903Z" fill="#5AAEDD"/>
<path d="M574,901 Q579,902.5 581,903.4 Q579,904.5 574,906Z" fill="#fff" opacity="0.9"/>
<line x1="540" y1="902.3" x2="572" y2="902.3" stroke="#fff" stroke-width="0.8" stroke-dasharray="4,2" opacity="0.6"/><line x1="545" y1="905.3" x2="570" y2="905.3" stroke="#fff" stroke-width="0.8" stroke-dasharray="4,2" opacity="0.5"/>
<circle cx="539.6" cy="886.7" r="3.8" fill="#5AAEDD"/><circle cx="559.0" cy="886.2" r="3.8" fill="#5AAEDD"/><circle cx="533.9" cy="900.4" r="3.8" fill="#5AAEDD"/><circle cx="559.0" cy="917.3" r="3.8" fill="#5AAEDD"/><circle cx="536.0" cy="903.5" r="3.8" fill="#5AAEDD"/>
<path d="M652.8,769.8C652.8,769.8 682.4,769.8 682.4,769.8C682.4,769.8 674.5,774.2 672.0,776.0C669.5,777.8 667.2,778.8 667.5,780.5C667.8,782.2 669.9,783.9 674.0,786.0C678.1,788.1 686.8,791.1 692.0,793.0C697.2,794.9 703.2,796.2 705.0,797.5C706.8,798.8 705.5,800.3 703.0,801.0C700.5,801.7 699.7,801.7 690.0,801.8C680.3,801.9 655.0,801.9 645.0,801.8C635.0,801.7 632.8,801.7 630.0,801.0C627.2,800.3 626.6,798.8 628.4,797.5C630.2,796.2 635.6,794.9 641.0,793.0C646.4,791.1 656.7,788.1 661.0,786.0C665.3,783.9 666.8,782.2 667.0,780.5C667.2,778.8 664.4,777.8 662.0,776.0C659.6,774.2 652.8,769.8 652.8,769.8Z" fill="none" stroke="#E09A2A" stroke-width="2.5" stroke-linejoin="round"/>
<rect x="653.9" y="790.3" width="26.3" height="8.7" fill="none" stroke="#E09A2A" stroke-width="2.5"/><line x1="653.9" y1="795.0" x2="680.2" y2="795.0" stroke="#E09A2A" stroke-width="2.5"/>
<line x1="667.2" y1="769.8" x2="667.2" y2="801.7" stroke="#E09A2A" stroke-width="2.5"/>
<circle cx="666.5" cy="769.8" r="3.6" fill="#E09A2A"/><circle cx="699.1" cy="769.8" r="3.6" fill="#E09A2A"/><circle cx="648.2" cy="801.3" r="3.6" fill="#E09A2A"/><circle cx="683.6" cy="795.3" r="3.6" fill="#E09A2A"/><circle cx="675.6" cy="788.0" r="3.6" fill="#E09A2A"/>
<line x1="638" y1="949.5" x2="638" y2="955" stroke="#E09A2A" stroke-width="2.2"/>
<path d="M736.1,794.4C736.1,794.4 763.5,794.4 763.5,794.4C763.5,794.4 767.8,799.3 770.0,802.0C772.2,804.7 775.5,808.4 776.5,810.8C777.5,813.2 777.1,815.0 776.0,816.5C774.9,818.0 770.0,819.5 770.0,819.5C770.0,819.5 735.0,819.5 735.0,819.5C735.0,819.5 729.2,818.0 728.0,816.5C726.8,815.0 727.2,812.9 727.5,810.8C727.8,808.7 728.6,806.7 730.0,804.0C731.4,801.3 736.1,794.4 736.1,794.4Z" fill="none" stroke="#5AAEDD" stroke-width="2.5" stroke-linejoin="round"/>
<rect x="738.4" y="802.9" width="28.5" height="12.5" fill="none" stroke="#5AAEDD" stroke-width="2.5"/><line x1="738.4" y1="808.6" x2="766.9" y2="808.6" stroke="#5AAEDD" stroke-width="2.5"/>
<line x1="751.4" y1="794.4" x2="751.4" y2="819.5" stroke="#5AAEDD" stroke-width="2.5"/>
<circle cx="720.6" cy="794.4" r="3.6" fill="#5AAEDD"/><circle cx="757.8" cy="802.9" r="3.6" fill="#5AAEDD"/><circle cx="773.7" cy="808.6" r="3.6" fill="#5AAEDD"/><circle cx="769.9" cy="815.4" r="3.6" fill="#5AAEDD"/><circle cx="763.0" cy="819.5" r="3.6" fill="#5AAEDD"/>
<path d="M76.3,1251.7C76.3,1251.7 107.6,1251.7 107.6,1251.7C107.6,1251.7 107.5,1254.2 111.0,1256.5C114.5,1258.8 128.4,1262.9 128.4,1265.6C128.4,1268.3 111.0,1272.5 111.0,1272.5C111.0,1272.5 67.0,1272.5 67.0,1272.5C67.0,1272.5 51.3,1268.3 52.0,1265.6C52.7,1262.9 67.0,1258.8 71.0,1256.5C75.0,1254.2 76.3,1251.7 76.3,1251.7Z" fill="none" stroke="#E09A2A" stroke-width="2.5" stroke-linejoin="round"/>
<rect x="77.5" y="1259.8" width="24.3" height="4.7" fill="none" stroke="#E09A2A" stroke-width="2.5"/>
<line x1="90.2" y1="1251.7" x2="90.2" y2="1272.5" stroke="#E09A2A" stroke-width="2.5"/>
<circle cx="74.0" cy="1250.6" r="3.6" fill="#E09A2A"/><circle cx="116.8" cy="1264.5" r="3.6" fill="#E09A2A"/><circle cx="104.1" cy="1271.4" r="3.6" fill="#E09A2A"/>
<path d="M167.7,1149.3C167.7,1149.3 181.6,1149.3 181.6,1149.3C181.6,1149.3 184.5,1163.8 184.5,1163.8C184.5,1163.8 187.4,1163.8 187.4,1163.8C187.4,1163.8 187.4,1193.2 187.4,1193.2C187.4,1193.2 183.0,1193.2 183.0,1193.2C183.0,1193.2 180.0,1216.6 180.0,1216.6C180.0,1216.6 170.0,1216.6 170.0,1216.6C170.0,1216.6 166.3,1193.2 166.3,1193.2C166.3,1193.2 161.9,1193.2 161.9,1193.2C161.9,1193.2 161.9,1163.8 161.9,1163.8C161.9,1163.8 164.8,1163.8 164.8,1163.8C164.8,1163.8 167.7,1149.3 167.7,1149.3Z" fill="none" stroke="#5AAEDD" stroke-width="2.5" stroke-linejoin="round"/>
<rect x="161.9" y="1163.8" width="25.5" height="29.4" fill="none" stroke="#5AAEDD" stroke-width="2.5"/><line x1="161.9" y1="1180.7" x2="187.4" y2="1180.7" stroke="#5AAEDD" stroke-width="2.5"/>
<line x1="174.6" y1="1149.3" x2="174.6" y2="1216.6" stroke="#5AAEDD" stroke-width="2.5"/>
<circle cx="158.0" cy="1149.3" r="3.6" fill="#5AAEDD"/><circle cx="156.4" cy="1163.8" r="3.6" fill="#5AAEDD"/><circle cx="205.4" cy="1180.7" r="3.6" fill="#5AAEDD"/><circle cx="201.2" cy="1193.2" r="3.6" fill="#5AAEDD"/><circle cx="207.7" cy="1216.6" r="3.6" fill="#5AAEDD"/>
<path d="M260.2,1227.5C260.2,1227.5 301.8,1227.5 301.8,1227.5C301.8,1227.5 303.6,1232.1 303.5,1236.7C303.4,1241.3 301.7,1250.4 301.0,1255.0C300.3,1259.6 299.5,1264.5 299.5,1264.5C299.5,1264.5 267.1,1264.5 267.1,1264.5C267.1,1264.5 264.4,1254.8 263.5,1250.0C262.6,1245.2 262.6,1239.8 262.0,1236.0C261.4,1232.2 260.2,1227.5 260.2,1227.5Z" fill="none" stroke="#E09A2A" stroke-width="2.5" stroke-linejoin="round"/>
<rect x="269.4" y="1233.3" width="26.6" height="24.3" fill="none" stroke="#E09A2A" stroke-width="2.5"/><line x1="269.4" y1="1241.4" x2="296.0" y2="1241.4" stroke="#E09A2A" stroke-width="2.5"/>
<line x1="282.6" y1="1227.5" x2="282.6" y2="1264.5" stroke="#E09A2A" stroke-width="2.5"/>
<circle cx="260.9" cy="1227.0" r="3.6" fill="#E09A2A"/><circle cx="264.8" cy="1241.4" r="3.6" fill="#E09A2A"/><circle cx="294.2" cy="1233.3" r="3.6" fill="#E09A2A"/><circle cx="309.9" cy="1257.6" r="3.6" fill="#E09A2A"/><circle cx="314.5" cy="1264.5" r="3.6" fill="#E09A2A"/>
<path d="M353.9,1162.7C353.9,1162.7 379.8,1162.7 379.8,1162.7C379.8,1162.7 375.1,1169.1 373.0,1172.0C370.9,1174.9 367.5,1177.3 367.3,1180.0C367.1,1182.7 369.1,1185.2 372.0,1188.0C374.9,1190.8 380.0,1194.3 385.0,1197.0C390.0,1199.7 398.6,1202.2 402.0,1204.0C405.4,1205.8 405.8,1206.8 405.5,1207.5C405.2,1208.2 400.0,1208.5 400.0,1208.5C400.0,1208.5 334.0,1208.5 334.0,1208.5C334.0,1208.5 328.6,1208.2 328.4,1207.5C328.2,1206.8 329.4,1205.8 333.0,1204.0C336.6,1202.2 345.1,1199.7 350.0,1197.0C354.9,1194.3 360.6,1190.8 362.6,1188.0C364.6,1185.2 362.4,1182.7 362.0,1180.0C361.6,1177.3 361.4,1174.9 360.0,1172.0C358.6,1169.1 353.9,1162.7 353.9,1162.7Z" fill="none" stroke="#5AAEDD" stroke-width="2.5" stroke-linejoin="round"/>
<rect x="354.3" y="1194.0" width="26.2" height="12.7" fill="none" stroke="#5AAEDD" stroke-width="2.5"/>
<line x1="367.3" y1="1162.7" x2="367.3" y2="1208.5" stroke="#5AAEDD" stroke-width="2.5"/>
<circle cx="345.8" cy="1162.7" r="3.6" fill="#5AAEDD"/><circle cx="366.6" cy="1162.7" r="3.6" fill="#5AAEDD"/><circle cx="386.7" cy="1207.8" r="3.6" fill="#5AAEDD"/><circle cx="392.0" cy="1209.0" r="3.6" fill="#5AAEDD"/><circle cx="396.7" cy="1206.7" r="3.6" fill="#5AAEDD"/>
<line x1="437.1" y1="1273.3" x2="513.5" y2="1273.3" stroke="#E09A2A" stroke-width="3"/>
<circle cx="439.0" cy="1273.3" r="3.6" fill="#E09A2A"/><circle cx="444.0" cy="1273.3" r="3.6" fill="#E09A2A"/><circle cx="449.0" cy="1273.3" r="3.6" fill="#E09A2A"/><circle cx="453.0" cy="1273.3" r="3.6" fill="#E09A2A"/><circle cx="481.1" cy="1273.3" r="3.6" fill="#E09A2A"/>
<path d="M552.4,1096.8C552.4,1096.8 566.2,1096.8 566.2,1096.8C566.2,1096.8 568.0,1153.0 568.0,1153.0C568.0,1153.0 572.5,1153.0 572.5,1153.0C572.5,1153.0 572.5,1273.3 572.5,1273.3C572.5,1273.3 546.3,1273.3 546.3,1273.3C546.3,1273.3 546.3,1153.0 546.3,1153.0C546.3,1153.0 550.6,1153.0 550.6,1153.0C550.6,1153.0 552.4,1096.8 552.4,1096.8Z" fill="none" stroke="#5AAEDD" stroke-width="2.5" stroke-linejoin="round"/>
<rect x="546.3" y="1153.0" width="26.2" height="120.3" fill="none" stroke="#5AAEDD" stroke-width="2.5"/>
<line x1="559.3" y1="1096.8" x2="559.3" y2="1273.3" stroke="#5AAEDD" stroke-width="2.5"/>
<circle cx="538.9" cy="1096.8" r="3.6" fill="#5AAEDD"/><circle cx="577.1" cy="1152.3" r="3.6" fill="#5AAEDD"/><circle cx="531.5" cy="1273.3" r="3.6" fill="#5AAEDD"/><circle cx="573.6" cy="1273.3" r="3.6" fill="#5AAEDD"/><circle cx="578.7" cy="1273.3" r="3.6" fill="#5AAEDD"/>
<path d="M628.0,1266.0C628.0,1264.6 638.5,1262.9 645.0,1262.0C651.5,1261.1 659.5,1260.5 667.0,1260.5C674.5,1260.5 683.4,1261.2 690.0,1262.0C696.6,1262.8 706.7,1264.1 706.7,1265.5C706.7,1266.9 696.6,1269.5 690.0,1270.5C683.4,1271.5 674.5,1271.5 667.0,1271.5C659.5,1271.5 651.5,1271.4 645.0,1270.5C638.5,1269.6 628.0,1267.4 628.0,1266.0Z" fill="none" stroke="#E09A2A" stroke-width="2.6" stroke-linejoin="round"/>
<rect x="653.4" y="1262.5" width="31.3" height="7.0" fill="none" stroke="#E09A2A" stroke-width="2.4"/><line x1="653.4" y1="1266.0" x2="684.7" y2="1266.0" stroke="#E09A2A" stroke-width="2.4"/>
<circle cx="645.8" cy="1268.7" r="3.6" fill="#E09A2A"/><circle cx="680.5" cy="1260.4" r="3.6" fill="#E09A2A"/><circle cx="695.1" cy="1270.4" r="3.6" fill="#E09A2A"/>
<path d="M744.4,1228.7C744.4,1228.7 758.7,1228.7 758.7,1228.7C758.7,1228.7 765.2,1233.3 765.2,1233.3C765.2,1233.3 765.2,1253.0 765.2,1253.0C765.2,1253.0 738.4,1253.0 738.4,1253.0C738.4,1253.0 738.4,1233.3 738.4,1233.3C738.4,1233.3 744.4,1228.7 744.4,1228.7Z" fill="none" stroke="#5AAEDD" stroke-width="2.5" stroke-linejoin="round"/>
<rect x="738.4" y="1233.3" width="26.8" height="19.7" fill="none" stroke="#5AAEDD" stroke-width="2.5"/><line x1="738.4" y1="1250.0" x2="765.2" y2="1250.0" stroke="#5AAEDD" stroke-width="2.5"/>
<rect x="738.4" y="1246" width="26.8" height="7" fill="#5AAEDD"/>
<line x1="751.3" y1="1228.7" x2="751.3" y2="1253.0" stroke="#5AAEDD" stroke-width="2.5"/>
<circle cx="718.9" cy="1228.2" r="3.6" fill="#5AAEDD"/><circle cx="780.0" cy="1253.0" r="3.6" fill="#5AAEDD"/>
<path d="M1123.0,786.3L1177.6,922.7 M1123.0,786.3Q1180.3,842.5 1177.6,922.7 M959.1,898.3L1079.2,967.7 M959.1,898.3Q998.3,969.0 1079.2,967.7 M1225.2,817.6L1233.9,887.7 M1225.2,817.6Q1205.0,855.7 1233.9,887.7 M1225.2,817.6L1252.7,852.6 M1225.2,817.6Q1248.6,889.0 1242.7,964.0 M1252.7,852.6L1233.9,887.7 M1252.7,852.6Q1255.1,891.4 1265.2,929.0 M1252.7,852.6Q1236.6,907.3 1242.7,964.0 M1252.7,852.6Q1262.1,926.7 1242.3,998.8 M1252.7,852.6Q1204.6,876.4 1177.6,922.7 M1332.8,868.1Q1281.4,868.0 1233.9,887.7 M1332.8,868.1Q1249.7,879.9 1177.6,922.7 M1332.8,868.1L1265.2,929.0 M1332.8,868.1Q1283.0,911.5 1242.7,964.0 M1332.8,868.1Q1294.1,938.0 1242.3,998.8 M1332.8,868.1Q1237.4,895.7 1160.0,957.8 M1332.8,868.1Q1283.8,964.0 1201.7,1033.6 M1332.8,868.1Q1240.8,921.9 1161.3,992.8 M1435.4,875.2Q1347.6,893.6 1265.2,929.0 M1435.4,875.2L1345.3,949.0 M1435.4,875.2L1425.4,955.3 M1435.4,875.2Q1402.4,911.8 1425.4,955.3 M1435.4,875.2Q1347.9,938.9 1242.7,964.0 M1435.4,875.2Q1356.8,922.5 1265.2,929.0 M1131.3,877.7L1233.9,887.7 M1131.3,877.7Q1185.6,851.9 1233.9,887.7 M1131.3,877.7L1177.6,922.7 M1131.3,877.7L1265.2,929.0 M1131.3,877.7Q1117.6,927.8 1160.0,957.8 M1131.3,877.7Q1134.8,938.2 1161.3,992.8 M1131.3,877.7Q1178.4,932.0 1242.7,964.0 M1131.3,877.7Q1198.9,927.1 1242.3,998.8 M1131.3,877.7Q1158.7,959.2 1201.7,1033.6 M1131.3,877.7Q1153.7,914.9 1160.0,957.8 M1131.3,877.7Q1108.5,978.7 1161.6,1067.6 M1345.3,949.0L1265.2,929.0 M1345.3,949.0Q1293.2,951.4 1242.7,964.0 M1345.3,949.0Q1288.8,963.6 1242.3,998.8 M1345.3,949.0L1425.4,955.3 M1345.3,949.0Q1384.1,968.2 1425.4,955.3 M1345.3,949.0L1419.1,1026.4 M1345.3,949.0L1335.1,1024.5 M1345.3,949.0Q1257.5,961.0 1177.6,922.7 M1345.3,949.0Q1251.8,934.9 1160.0,957.8 M1345.3,949.0Q1282.0,1005.7 1201.7,1033.6 M1345.3,949.0Q1276.4,1015.9 1238.6,1104.2 M1425.4,955.3L1419.1,1026.4 M1425.4,955.3Q1457.8,994.0 1419.1,1026.4 M1425.4,955.3Q1347.9,926.1 1265.2,929.0 M1425.4,955.3Q1334.9,977.9 1242.7,964.0 M1425.4,955.3Q1329.5,958.7 1242.3,998.8 M1425.4,955.3Q1287.9,998.3 1161.6,1067.6 M1419.1,1026.4Q1333.5,994.9 1242.3,998.8 M1419.1,1026.4Q1327.8,1004.0 1242.7,964.0 M1419.1,1026.4Q1351.9,962.3 1265.2,929.0 M1419.1,1026.4L1335.1,1024.5 M1419.1,1026.4Q1303.5,962.5 1177.6,922.7 M1335.1,1024.5L1242.3,998.8 M1335.1,1024.5Q1295.0,985.0 1242.7,964.0 M1335.1,1024.5Q1269.3,1042.4 1201.7,1033.6 M1335.1,1024.5Q1266.5,957.9 1177.6,922.7 M1335.1,1024.5Q1278.9,1054.7 1238.6,1104.2 M1335.1,1024.5Q1290.6,983.7 1265.2,929.0 M1329.2,1060.0Q1288.8,1025.1 1242.3,998.8 M1329.2,1060.0Q1276.4,1020.6 1242.7,964.0 M1329.2,1060.0Q1268.1,1034.0 1201.7,1033.6 M1329.2,1060.0Q1246.5,998.9 1177.6,922.7 M1329.2,1060.0Q1316.9,984.9 1265.2,929.0 M1351.0,1112.4L1238.6,1104.2 M1351.0,1112.4Q1297.3,1074.6 1238.6,1104.2 M1351.0,1112.4Q1308.0,1044.7 1242.3,998.8 M1351.0,1112.4Q1282.0,1049.0 1242.7,964.0 M1351.0,1112.4Q1284.2,1058.1 1201.7,1033.6 M1341.0,1149.0Q1321.7,1054.2 1242.3,998.8 M1341.0,1149.0Q1254.8,1076.2 1242.7,964.0 M1341.0,1149.0Q1325.1,1031.4 1265.2,929.0 M1259.1,1139.0L1238.6,1104.2 M1259.1,1139.0Q1262.8,1113.4 1238.6,1104.2 M1259.1,1139.0Q1234.9,1129.8 1238.6,1104.2 M1259.1,1139.0Q1257.7,1068.1 1242.3,998.8 M1259.1,1139.0Q1233.4,1053.1 1242.7,964.0 M1259.1,1139.0Q1240.9,1080.6 1201.7,1033.6 M1259.1,1139.0Q1223.6,1174.7 1175.3,1160.2 M1175.3,1160.2L1161.6,1067.6 M1175.3,1160.2Q1196.2,1109.8 1161.6,1067.6 M1175.3,1160.2Q1218.1,1144.9 1238.6,1104.2 M1175.3,1160.2Q1201.2,1099.5 1201.7,1033.6 M1175.3,1160.2Q1192.7,1072.8 1242.3,998.8 M1175.3,1160.2Q1160.1,1085.8 1106.5,1032.0 M1226.7,1219.0L1161.6,1067.6 M1226.7,1219.0Q1201.5,1106.6 1242.3,998.8 M1105.2,1230.0L1161.6,1067.6 M1105.2,1230.0Q1162.2,1107.5 1242.3,998.8 M1105.2,1230.0L1077.7,1288.9 M1105.2,1230.0Q1056.1,1243.0 1077.7,1288.9 M946.3,1123.9L1021.4,1150.2 M946.3,1123.9Q970.7,1174.6 1021.4,1150.2 M1021.4,1150.2L1092.2,1132.7 M1021.4,1150.2Q1095.6,1115.9 1161.6,1067.6 M1092.2,1132.7Q1133.4,1107.1 1161.6,1067.6 M1092.2,1132.7L1106.5,1032.0 M1092.2,1132.7L1081.5,1075.1 M1092.2,1132.7Q1054.2,1079.9 998.9,1045.8 M1092.2,1132.7Q1187.3,1088.3 1242.3,998.8 M1092.2,1132.7Q1137.0,1072.2 1201.7,1033.6 M998.9,1045.8L1106.5,1032.0 M998.9,1045.8Q1056.2,1065.8 1106.5,1032.0 M998.9,1045.8Q1031.4,1085.2 1081.5,1075.1 M998.9,1045.8Q1037.9,1067.1 1081.5,1075.1 M998.9,1045.8L1161.6,1067.6 M998.9,1045.8Q1026.4,1109.8 1092.2,1132.7 M998.9,1045.8Q1042.9,1092.0 1092.2,1132.7 M1081.5,1075.1L1161.6,1067.6 M1081.5,1075.1Q1098.3,1056.0 1106.5,1032.0 M1081.5,1075.1Q1169.5,1053.0 1242.3,998.8 M1081.5,1075.1Q1137.4,1042.3 1201.7,1033.6 M1079.2,967.7Q1121.6,978.9 1160.0,957.8 M1079.2,967.7Q1119.0,984.4 1161.3,992.8 M1079.2,967.7Q1161.1,974.0 1242.7,964.0 M1079.2,967.7Q1162.3,975.1 1242.3,998.8 M1079.2,967.7Q1132.9,955.0 1177.6,922.7 M1079.2,967.7L1106.5,1032.0 M1079.2,967.7Q1110.4,1025.9 1161.6,1067.6 M1079.2,967.7Q1143.7,994.5 1201.7,1033.6 M1079.2,967.7Q1168.3,929.8 1265.2,929.0 M1079.2,967.7Q1118.1,950.6 1160.0,957.8 M1161.6,1067.6Q1196.2,1109.8 1175.3,1160.2 M1161.6,1067.6Q1154.6,1116.0 1175.3,1160.2 M1161.6,1067.6Q1199.6,1117.9 1259.1,1139.0 M1161.6,1067.6Q1187.3,1112.9 1238.6,1104.2 M1092.2,1132.7Q1172.5,1155.0 1238.6,1104.2 M1106.5,1032.0Q1128.1,1103.0 1175.3,1160.2 M1081.5,1075.1Q1153.6,1124.2 1238.6,1104.2 M1201.7,1033.6Q1163.2,1091.6 1175.3,1160.2 M1242.3,998.8Q1224.9,1086.2 1175.3,1160.2 M1238.6,1104.2Q1218.1,1144.9 1175.3,1160.2 M1161.6,1067.6Q1216.9,1133.5 1226.7,1219.0 M1092.2,1132.7Q1113.9,1086.3 1161.6,1067.6 M1106.5,1032.0Q1114.5,1084.5 1092.2,1132.7 M1242.7,964.0Q1246.2,981.4 1242.3,998.8 M1242.7,964.0Q1237.8,981.3 1242.3,998.8 M1242.7,964.0Q1228.7,1036.6 1161.6,1067.6 M1242.7,964.0Q1214.7,1025.6 1161.6,1067.6 M1242.7,964.0Q1244.7,940.5 1265.2,929.0 M1242.7,964.0Q1239.4,937.1 1265.2,929.0 M1242.7,964.0Q1235.3,926.2 1233.9,887.7 M1242.7,964.0Q1210.2,929.1 1233.9,887.7 M1242.7,964.0Q1208.3,946.3 1177.6,922.7 M1242.7,964.0Q1200.0,979.6 1160.0,957.8 M1242.7,964.0Q1202.1,951.4 1160.0,957.8 M1242.7,964.0Q1194.3,956.5 1161.3,992.8 M1242.7,964.0Q1204.7,986.0 1161.3,992.8 M1242.7,964.0Q1202.3,987.1 1201.7,1033.6 M1242.7,964.0Q1199.7,985.6 1201.7,1033.6 M1242.7,964.0Q1183.2,1015.2 1106.5,1032.0 M1242.7,964.0Q1198.0,1044.9 1106.5,1032.0 M1242.7,964.0Q1256.8,1034.6 1238.6,1104.2 M1242.3,998.8Q1215.1,1048.7 1161.6,1067.6 M1242.3,998.8Q1193.3,1023.1 1161.6,1067.6 M1242.3,998.8Q1248.4,962.1 1265.2,929.0 M1242.3,998.8Q1226.3,954.9 1265.2,929.0 M1242.3,998.8Q1208.7,945.5 1233.9,887.7 M1242.3,998.8Q1256.1,941.9 1233.9,887.7 M1242.3,998.8Q1206.6,963.6 1177.6,922.7 M1242.3,998.8Q1215.8,955.8 1177.6,922.7 M1242.3,998.8Q1200.0,980.6 1160.0,957.8 M1242.3,998.8Q1212.0,956.5 1160.0,957.8 M1242.3,998.8Q1202.5,986.1 1161.3,992.8 M1242.3,998.8Q1202.2,990.4 1161.3,992.8 M1242.3,998.8Q1221.5,1015.6 1201.7,1033.6 M1242.3,998.8Q1169.8,996.7 1106.5,1032.0 M1242.3,998.8Q1160.1,956.7 1106.5,1032.0 M1242.3,998.8Q1264.6,1052.3 1238.6,1104.2 M1242.3,998.8Q1216.1,1050.6 1238.6,1104.2 M1161.6,1067.6Q1184.5,976.7 1265.2,929.0 M1161.6,1067.6Q1155.9,955.3 1265.2,929.0 M1161.6,1067.6Q1215.9,984.9 1233.9,887.7 M1161.6,1067.6Q1175.9,995.9 1177.6,922.7 M1161.6,1067.6Q1148.5,1012.9 1160.0,957.8 M1161.6,1067.6Q1165.7,1030.2 1161.3,992.8 M1161.6,1067.6Q1158.5,1030.2 1161.3,992.8 M1161.6,1067.6Q1188.6,1058.8 1201.7,1033.6 M1161.6,1067.6Q1133.5,1050.7 1106.5,1032.0 M1161.6,1067.6Q1209.7,1065.6 1238.6,1104.2 M1265.2,929.0Q1253.2,905.6 1233.9,887.7 M1265.2,929.0Q1222.6,908.9 1177.6,922.7 M1265.2,929.0Q1220.8,934.9 1177.6,922.7 M1265.2,929.0Q1209.7,932.8 1160.0,957.8 M1265.2,929.0Q1213.6,947.0 1160.0,957.8 M1265.2,929.0Q1226.0,981.6 1161.3,992.8 M1265.2,929.0Q1238.6,1002.1 1161.3,992.8 M1265.2,929.0Q1216.6,971.1 1201.7,1033.6 M1265.2,929.0Q1257.2,995.7 1201.7,1033.6 M1265.2,929.0Q1192.6,990.9 1106.5,1032.0 M1265.2,929.0Q1296.0,1023.3 1238.6,1104.2 M1265.2,929.0Q1244.1,1015.4 1238.6,1104.2 M1233.9,887.7Q1197.7,892.2 1177.6,922.7 M1233.9,887.7Q1181.6,906.6 1160.0,957.8 M1233.9,887.7Q1202.3,928.4 1160.0,957.8 M1233.9,887.7Q1206.5,946.4 1161.3,992.8 M1233.9,887.7Q1177.7,951.8 1201.7,1033.6 M1233.9,887.7Q1260.3,970.0 1201.7,1033.6 M1233.9,887.7Q1193.4,980.3 1106.5,1032.0 M1233.9,887.7Q1172.2,961.6 1106.5,1032.0 M1233.9,887.7Q1224.7,996.2 1238.6,1104.2 M1233.9,887.7Q1332.9,993.9 1238.6,1104.2 M1177.6,922.7Q1170.5,941.1 1160.0,957.8 M1177.6,922.7Q1166.7,939.2 1160.0,957.8 M1177.6,922.7Q1150.4,953.3 1161.3,992.8 M1177.6,922.7Q1188.6,978.4 1201.7,1033.6 M1177.6,922.7Q1130.5,969.8 1106.5,1032.0 M1177.6,922.7Q1102.7,951.8 1106.5,1032.0 M1177.6,922.7Q1177.6,1023.7 1238.6,1104.2 M1160.0,957.8Q1154.4,975.5 1161.3,992.8 M1160.0,957.8Q1163.8,975.2 1161.3,992.8 M1160.0,957.8Q1198.9,985.8 1201.7,1033.6 M1160.0,957.8Q1152.7,1009.0 1106.5,1032.0 M1160.0,957.8Q1152.7,1008.9 1106.5,1032.0 M1160.0,957.8Q1229.0,1015.1 1238.6,1104.2 M1160.0,957.8Q1258.3,999.3 1238.6,1104.2 M1161.3,992.8Q1193.7,1001.1 1201.7,1033.6 M1161.3,992.8Q1196.1,998.7 1201.7,1033.6 M1161.3,992.8Q1137.1,1016.9 1106.5,1032.0 M1161.3,992.8Q1120.7,993.9 1106.5,1032.0 M1161.3,992.8Q1192.3,1053.8 1238.6,1104.2 M1161.3,992.8Q1224.8,1031.3 1238.6,1104.2 M1201.7,1033.6Q1154.0,1041.5 1106.5,1032.0 M1201.7,1033.6Q1153.6,1065.1 1106.5,1032.0 M1201.7,1033.6Q1205.4,1076.6 1238.6,1104.2 M1106.5,1032.0Q1174.0,1065.4 1238.6,1104.2 M1106.5,1032.0Q1199.5,1018.9 1238.6,1104.2" fill="none" stroke="#808080" stroke-width="2.4"/>
<ellipse cx="1123" cy="786.3" rx="18.2" ry="17.3" fill="#8AC8E7"/>
<ellipse cx="1225.2" cy="817.6" rx="18.2" ry="17.3" fill="#8AC8E7"/>
<ellipse cx="1252.7" cy="852.6" rx="18.2" ry="17.3" fill="#8AC8E7"/>
<ellipse cx="1332.8" cy="868.1" rx="18.2" ry="17.3" fill="#8AC8E7"/>
<ellipse cx="1435.4" cy="875.2" rx="18.2" ry="17.3" fill="#8AC8E7"/>
<ellipse cx="959.1" cy="898.3" rx="18.2" ry="17.3" fill="#8AC8E7"/>
<ellipse cx="1131.3" cy="877.7" rx="18.2" ry="17.3" fill="#8AC8E7"/>
<ellipse cx="1233.9" cy="887.7" rx="18.2" ry="17.3" fill="#8AC8E7"/>
<ellipse cx="1177.6" cy="922.7" rx="18.2" ry="17.3" fill="#8AC8E7"/>
<ellipse cx="1265.2" cy="929" rx="18.2" ry="17.3" fill="#8AC8E7"/>
<ellipse cx="1345.3" cy="949" rx="18.2" ry="17.3" fill="#8AC8E7"/>
<ellipse cx="1425.4" cy="955.3" rx="18.2" ry="17.3" fill="#8AC8E7"/>
<ellipse cx="1079.2" cy="967.7" rx="18.2" ry="17.3" fill="#8AC8E7"/>
<ellipse cx="1160" cy="957.8" rx="18.2" ry="17.3" fill="#8AC8E7"/>
<ellipse cx="1242.7" cy="964" rx="18.2" ry="17.3" fill="#8AC8E7"/>
<ellipse cx="1161.3" cy="992.8" rx="18.2" ry="17.3" fill="#8AC8E7"/>
<ellipse cx="1242.3" cy="998.8" rx="18.2" ry="17.3" fill="#8AC8E7"/>
<ellipse cx="1335.1" cy="1024.5" rx="18.2" ry="17.3" fill="#8AC8E7"/>
<ellipse cx="1419.1" cy="1026.4" rx="18.2" ry="17.3" fill="#8AC8E7"/>
<ellipse cx="998.9" cy="1045.8" rx="18.2" ry="17.3" fill="#8AC8E7"/>
<ellipse cx="1106.5" cy="1032" rx="18.2" ry="17.3" fill="#8AC8E7"/>
<ellipse cx="1201.7" cy="1033.6" rx="18.2" ry="17.3" fill="#8AC8E7"/>
<ellipse cx="1081.5" cy="1075.1" rx="18.2" ry="17.3" fill="#8AC8E7"/>
<ellipse cx="1161.6" cy="1067.6" rx="18.2" ry="17.3" fill="#8AC8E7"/>
<ellipse cx="1329.2" cy="1060" rx="18.2" ry="17.3" fill="#8AC8E7"/>
<ellipse cx="1238.6" cy="1104.2" rx="18.2" ry="17.3" fill="#8AC8E7"/>
<ellipse cx="1351" cy="1112.4" rx="18.2" ry="17.3" fill="#8AC8E7"/>
<ellipse cx="946.3" cy="1123.9" rx="18.2" ry="17.3" fill="#8AC8E7"/>
<ellipse cx="1092.2" cy="1132.7" rx="18.2" ry="17.3" fill="#8AC8E7"/>
<ellipse cx="1259.1" cy="1139" rx="18.2" ry="17.3" fill="#8AC8E7"/>
<ellipse cx="1021.4" cy="1150.2" rx="18.2" ry="17.3" fill="#8AC8E7"/>
<ellipse cx="1341" cy="1149" rx="18.2" ry="17.3" fill="#8AC8E7"/>
<ellipse cx="1175.3" cy="1160.2" rx="18.2" ry="17.3" fill="#8AC8E7"/>
<ellipse cx="1105.2" cy="1230" rx="18.2" ry="17.3" fill="#8AC8E7"/>
<ellipse cx="1226.7" cy="1219" rx="18.2" ry="17.3" fill="#8AC8E7"/>
<ellipse cx="1077.7" cy="1288.9" rx="18.2" ry="17.3" fill="#8AC8E7"/>
<text x="1123" y="791.5" text-anchor="middle" font-size="17">Apod</text>
<text x="1225.2" y="822.8" text-anchor="middle" font-size="17">Ager</text>
<text x="1252.7" y="857.8" text-anchor="middle" font-size="17">Igfbp1</text>
<text x="1332.8" y="873.3" text-anchor="middle" font-size="17">Hp</text>
<text x="1435.4" y="880.4" text-anchor="middle" font-size="17">Ucp3</text>
<text x="959.1" y="903.5" text-anchor="middle" font-size="17">Loxl2</text>
<text x="1131.3" y="882.9" text-anchor="middle" font-size="17">Arg2</text>
<text x="1233.9" y="892.9" text-anchor="middle" font-size="17">Cd163</text>
<text x="1177.6" y="927.9" text-anchor="middle" font-size="17">Apoe</text>
<text x="1265.2" y="934.2" text-anchor="middle" font-size="17">Leptin</text>
<text x="1345.3" y="954.2" text-anchor="middle" font-size="17">Retn</text>
<text x="1425.4" y="960.5" text-anchor="middle" font-size="17">Adrb3</text>
<text x="1079.2" y="972.9" text-anchor="middle" font-size="17">Ccn2</text>
<text x="1160" y="963.0" text-anchor="middle" font-size="17">Ptgs2</text>
<text x="1242.7" y="969.2" text-anchor="middle" font-size="17" textLength="36" lengthAdjust="spacingAndGlyphs">I L - 1</text>
<text x="1161.3" y="998.0" text-anchor="middle" font-size="17">Bdnf</text>
<text x="1242.3" y="1004.0" text-anchor="middle" font-size="17">IL-6</text>
<text x="1335.1" y="1029.7" text-anchor="middle" font-size="17">Tnfrsf1b</text>
<text x="1419.1" y="1031.6" text-anchor="middle" font-size="17">Ucp1</text>
<text x="998.9" y="1051.0" text-anchor="middle" font-size="17">Cdkn2b</text>
<text x="1106.5" y="1037.2" text-anchor="middle" font-size="17">p21</text>
<text x="1201.7" y="1038.8" text-anchor="middle" font-size="17">Ccl5</text>
<text x="1081.5" y="1080.3" text-anchor="middle" font-size="17">p16ink4a</text>
<text x="1161.6" y="1072.8" text-anchor="middle" font-size="17">p53</text>
<text x="1329.2" y="1065.2" text-anchor="middle" font-size="17">Ccl11</text>
<text x="1238.6" y="1109.4" text-anchor="middle" font-size="17">Bcl6</text>
<text x="1351" y="1117.6" text-anchor="middle" font-size="17">Ciita</text>
<text x="946.3" y="1129.1" text-anchor="middle" font-size="17">Mybpc3</text>
<text x="1092.2" y="1137.9" text-anchor="middle" font-size="17">Tert</text>
<text x="1259.1" y="1144.2" text-anchor="middle" font-size="17">Lck</text>
<text x="1021.4" y="1155.4" text-anchor="middle" font-size="17">Cryab</text>
<text x="1341" y="1154.2" text-anchor="middle" font-size="17">Cyp27b1</text>
<text x="1175.3" y="1165.4" text-anchor="middle" font-size="17">Foxo4</text>
<text x="1105.2" y="1235.2" text-anchor="middle" font-size="17">Lamin B1</text>
<text x="1226.7" y="1224.2" text-anchor="middle" font-size="17">Krt14</text>
<text x="1077.7" y="1294.1" text-anchor="middle" font-size="17">Gm4353</text>
<text x="857.5" y="848.5" font-size="28.5" font-weight="bold">D</text>
</svg>
</body></html>
